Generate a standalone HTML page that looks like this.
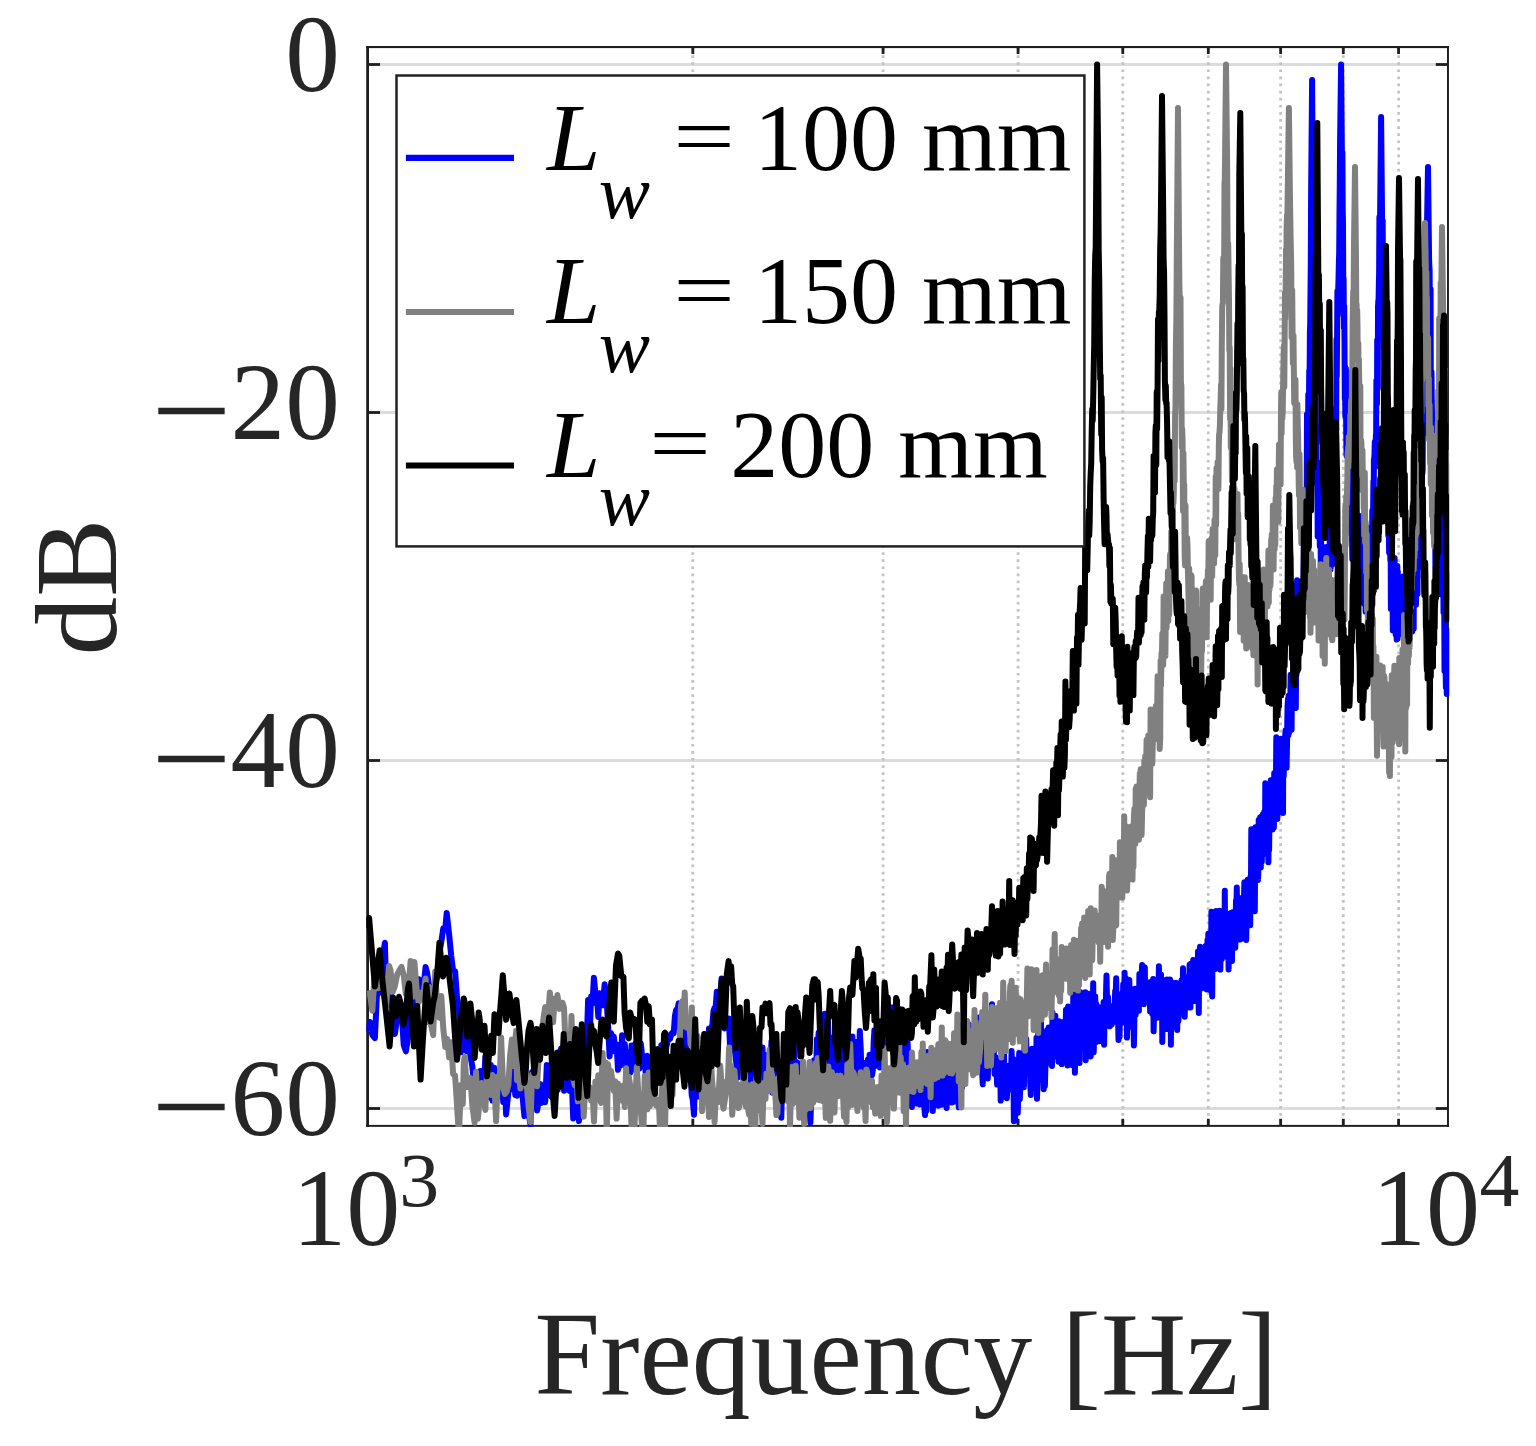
<!DOCTYPE html>
<html lang="en"><head><meta charset="utf-8"><title>Frequency response</title>
<style>
html,body{margin:0;padding:0;background:#fff;}
svg{display:block;}
text{font-family:"Liberation Serif","DejaVu Serif",serif;}
.tk{fill:#262626;}
.lg{fill:#000;}
</style></head>
<body>
<svg width="1536" height="1446" viewBox="0 0 1536 1446">
<rect x="0" y="0" width="1536" height="1446" fill="#ffffff"/>
<defs><clipPath id="ax"><rect x="366.3" y="45.9" width="1083.0" height="1081.1"/></clipPath></defs>
<g stroke="#dcdcdc" stroke-width="2.8" fill="none">
<line x1="367.6" y1="64.5" x2="1448.0" y2="64.5"/>
<line x1="367.6" y1="412.5" x2="1448.0" y2="412.5"/>
<line x1="367.6" y1="760.5" x2="1448.0" y2="760.5"/>
<line x1="367.6" y1="1108.5" x2="1448.0" y2="1108.5"/>
</g>
<g stroke="#c4c4c4" stroke-width="2.8" stroke-dasharray="2.7 4.4" fill="none">
<line x1="692.8" y1="48.1" x2="692.8" y2="1124.7"/>
<line x1="883.1" y1="48.1" x2="883.1" y2="1124.7"/>
<line x1="1018.1" y1="48.1" x2="1018.1" y2="1124.7"/>
<line x1="1122.8" y1="48.1" x2="1122.8" y2="1124.7"/>
<line x1="1208.3" y1="48.1" x2="1208.3" y2="1124.7"/>
<line x1="1280.6" y1="48.1" x2="1280.6" y2="1124.7"/>
<line x1="1343.3" y1="48.1" x2="1343.3" y2="1124.7"/>
<line x1="1398.6" y1="48.1" x2="1398.6" y2="1124.7"/>
</g>
<g fill="#1e1e1e" stroke="none">
<rect x="366.2" y="46.0" width="2.8" height="1080.8"/><rect x="1447.0" y="46.0" width="1.95" height="1080.8"/><rect x="366.2" y="46.0" width="1082.7" height="2.1"/><rect x="366.2" y="1124.9" width="1082.7" height="1.95"/>
<rect x="367.6" y="63.10" width="12.4" height="2.8"/><rect x="1435.8" y="63.10" width="12.2" height="2.8"/>
<rect x="367.6" y="411.10" width="12.4" height="2.8"/><rect x="1435.8" y="411.10" width="12.2" height="2.8"/>
<rect x="367.6" y="759.10" width="12.4" height="2.8"/><rect x="1435.8" y="759.10" width="12.2" height="2.8"/>
<rect x="367.6" y="1107.10" width="12.4" height="2.8"/><rect x="1435.8" y="1107.10" width="12.2" height="2.8"/>
<rect x="691.43" y="1118.8" width="2.8" height="6.9"/><rect x="691.43" y="47.2" width="2.8" height="6.8"/>
<rect x="881.68" y="1118.8" width="2.8" height="6.9"/><rect x="881.68" y="47.2" width="2.8" height="6.8"/>
<rect x="1016.67" y="1118.8" width="2.8" height="6.9"/><rect x="1016.67" y="47.2" width="2.8" height="6.8"/>
<rect x="1121.37" y="1118.8" width="2.8" height="6.9"/><rect x="1121.37" y="47.2" width="2.8" height="6.8"/>
<rect x="1206.91" y="1118.8" width="2.8" height="6.9"/><rect x="1206.91" y="47.2" width="2.8" height="6.8"/>
<rect x="1279.24" y="1118.8" width="2.8" height="6.9"/><rect x="1279.24" y="47.2" width="2.8" height="6.8"/>
<rect x="1341.90" y="1118.8" width="2.8" height="6.9"/><rect x="1341.90" y="47.2" width="2.8" height="6.8"/>
<rect x="1397.16" y="1118.8" width="2.8" height="6.9"/><rect x="1397.16" y="47.2" width="2.8" height="6.8"/>
</g>
<g clip-path="url(#ax)" fill="none" stroke-width="6" stroke-linejoin="round" stroke-linecap="butt">
<path stroke="#0000ff" d="M367.6 1031.3L369.9 1022.0L372.3 1034.8L374.9 1038.1L376.9 995.5L379.2 992.3L381.5 970.4L383.7 950.2L384.9 942.8L386.0 984.0L388.3 991.1L390.5 995.1L392.7 1011.4L394.9 1033.9L397.1 1018.4L399.3 999.5L401.5 1009.7L403.7 1044.9L405.9 1051.3L407.3 1043.1L410.2 1008.5L412.3 1014.8L414.4 989.4L416.6 992.1L418.9 979.3L420.8 993.7L422.9 993.0L425.6 966.9L427.0 972.3L429.1 985.9L431.1 986.8L433.2 1001.0L435.2 983.8L437.2 976.0L439.3 953.3L441.3 941.9L443.3 928.2L445.3 928.4L446.7 912.9L449.2 935.1L451.2 955.6L453.1 970.7L455.1 971.4L457.0 997.0L459.0 1009.5L460.9 1052.2L462.8 1028.6L464.7 1044.0L466.6 1051.2L468.5 1028.8L470.4 1055.7L472.3 1066.1L474.2 1086.1L476.0 1090.1L477.9 1082.4L479.7 1071.3L481.6 1070.9L483.4 1100.1L485.3 1057.0L487.1 1086.4L488.9 1097.5L490.7 1064.9L492.5 1100.6L494.3 1067.8L496.1 1090.6L497.9 1095.9L499.6 1094.3L501.4 1069.9L503.2 1101.9L504.9 1082.1L506.1 1114.4L508.4 1092.2L510.1 1088.4L512.7 1060.7L515.3 1095.1L517.0 1095.7L518.7 1093.2L520.4 1075.5L522.1 1091.4L524.4 1116.1L525.5 1100.4L527.1 1083.3L528.8 1114.2L530.5 1124.4L532.1 1072.1L533.8 1083.0L535.4 1089.4L537.1 1110.4L538.7 1100.9L540.3 1084.0L541.9 1102.8L543.6 1093.4L545.2 1102.2L546.8 1065.1L548.4 1070.1L550.0 1095.0L551.6 1097.0L553.1 1077.9L554.7 1087.8L556.3 1078.6L557.8 1089.9L559.4 1060.6L561.0 1048.5L562.5 1071.2L564.1 1090.8L565.6 1089.4L567.1 1073.8L568.7 1090.0L570.2 1091.4L571.7 1078.6L573.2 1118.5L574.7 1071.4L576.3 1086.1L577.8 1099.6L579.0 1121.1L580.7 1100.8L582.2 1069.5L583.7 1071.4L585.2 1058.3L586.7 1042.6L588.1 1000.1L589.6 1037.2L591.1 996.5L592.5 1003.5L593.9 977.7L595.4 993.1L596.8 993.0L598.3 1016.9L599.7 993.2L601.1 1004.3L602.6 1005.2L604.7 984.3L606.8 1003.9L608.2 1027.0L609.6 1056.4L611.0 1033.0L612.4 1039.0L613.8 1036.5L615.2 1051.7L616.6 1044.2L618.0 1069.8L619.3 1064.7L620.7 1065.3L622.1 1035.2L623.4 1063.7L624.8 1043.9L626.1 1067.3L627.5 1051.7L628.8 1059.0L630.2 1072.8L631.5 1045.6L632.9 1065.8L634.2 1069.5L635.5 1043.4L636.8 1057.3L638.2 1063.4L639.5 1068.6L640.8 1043.3L642.1 1055.3L643.4 1061.1L644.6 1060.7L646.0 1075.8L647.3 1055.7L648.6 1062.5L649.9 1082.9L651.2 1101.5L652.4 1069.8L653.7 1054.9L655.0 1070.4L656.3 1052.8L657.5 1081.9L658.8 1069.7L660.0 1077.2L661.3 1045.3L662.6 1080.8L663.8 1064.1L665.0 1064.6L666.3 1047.2L667.5 1041.8L668.8 1035.5L670.0 1039.0L671.2 1034.0L672.5 1032.6L673.7 1033.4L674.9 1016.2L676.1 1010.0L677.3 1011.0L678.6 1003.4L679.7 1025.3L681.0 1031.4L682.2 1036.8L683.4 1018.6L684.5 1027.1L685.7 1035.7L686.9 1065.8L688.1 1050.6L689.3 1079.8L690.5 1070.2L691.7 1095.1L692.7 1099.5L694.0 1114.7L695.2 1069.6L696.3 1083.4L697.5 1096.6L698.7 1051.4L699.8 1063.7L701.0 1065.4L702.1 1066.1L703.3 1047.7L704.4 1071.2L705.6 1059.1L706.7 1065.4L707.8 1054.7L709.0 1028.4L710.1 1034.8L711.2 1028.0L712.4 1024.4L713.5 1010.8L714.6 1007.9L715.7 1006.8L716.8 991.7L718.0 1011.2L719.1 1019.6L720.2 1000.8L721.6 978.5L723.5 1018.7L724.6 1028.5L725.7 1017.8L726.8 1022.3L727.9 1028.2L728.9 1018.5L730.0 1046.4L731.1 1020.4L732.2 1041.2L733.3 1048.7L734.3 1048.3L735.4 1054.6L736.5 1065.2L737.6 1072.0L738.6 1077.4L739.7 1052.1L740.7 1041.3L741.8 1050.4L742.9 1038.8L743.9 1055.4L745.0 1070.7L746.0 1043.3L747.1 1053.4L748.1 1051.8L749.1 1041.7L750.2 1053.6L751.2 1090.1L752.3 1094.7L753.3 1062.4L754.3 1055.0L755.3 1069.2L756.4 1052.8L757.4 1083.1L758.4 1071.8L759.4 1059.2L760.4 1088.8L761.5 1070.1L762.5 1047.6L763.5 1077.2L764.5 1065.9L765.5 1057.4L766.5 1055.0L767.5 1065.1L768.5 1063.5L769.5 1079.2L770.5 1065.4L771.5 1041.5L772.5 1092.8L773.5 1073.6L774.5 1063.9L775.4 1086.5L776.4 1088.7L777.4 1063.9L778.4 1084.9L779.4 1090.4L780.3 1071.2L781.3 1117.8L782.3 1073.7L783.2 1082.5L784.2 1088.4L785.2 1090.4L786.1 1077.9L787.1 1089.7L788.1 1057.5L789.0 1069.8L790.0 1051.2L790.9 1092.4L791.9 1089.4L792.8 1065.8L793.8 1041.6L794.7 1100.5L795.7 1064.2L796.6 1062.1L797.5 1063.3L798.5 1070.0L799.4 1063.4L800.3 1080.4L801.3 1070.2L802.2 1075.0L803.1 1065.6L804.1 1090.6L805.0 1085.2L805.9 1098.9L806.8 1078.2L807.7 1094.7L808.7 1095.9L810.4 1122.7L811.4 1091.0L812.3 1076.8L813.2 1082.4L814.1 1060.2L815.0 1075.5L815.9 1098.6L816.8 1039.2L817.7 1055.4L818.6 1032.7L819.5 1044.1L820.4 1041.8L821.3 1058.1L822.2 1056.1L823.1 1052.5L824.0 1030.0L824.9 1013.8L825.8 1029.3L826.6 1028.5L827.8 1015.0L829.3 1063.3L830.2 1056.5L831.0 1067.3L831.9 1055.4L832.8 1084.9L833.6 1037.2L834.5 1070.2L835.4 1027.2L836.2 1072.4L837.1 1059.1L838.0 1051.0L838.8 1037.5L839.7 1052.0L840.5 1049.4L841.4 1050.9L842.3 1083.8L843.1 1062.0L844.0 1070.1L844.8 1060.9L845.7 1038.2L846.5 1065.0L847.3 1085.3L848.2 1035.9L849.0 1073.2L849.9 1080.9L850.7 1058.0L851.5 1077.2L852.4 1036.5L853.2 1068.6L854.0 1052.1L854.9 1045.0L855.7 1073.6L856.5 1042.2L857.4 1041.7L858.2 1056.3L859.0 1073.8L859.8 1030.9L860.7 1047.6L861.5 1078.3L862.3 1065.2L863.1 1078.3L863.9 1062.7L864.7 1066.6L865.6 1067.6L866.4 1080.8L867.2 1079.5L868.0 1059.5L868.8 1067.1L869.6 1054.7L870.4 1074.0L871.2 1059.4L872.0 1075.4L872.8 1070.3L873.6 1043.0L874.4 1030.3L875.2 1065.8L876.0 1042.3L876.8 1063.2L877.6 1044.2L878.4 1063.6L879.2 1061.5L879.9 1067.6L880.7 1057.2L881.5 1059.6L882.3 1053.1L883.1 1039.1L883.9 1054.2L884.6 1041.2L885.4 1021.4L886.2 1033.2L887.0 1040.1L887.8 1038.8L888.5 1043.6L889.3 1038.0L890.1 1010.0L891.6 1007.6L893.1 1022.2L893.9 1016.1L894.7 1006.7L895.4 1029.8L896.2 999.5L897.0 1075.6L897.7 1030.6L898.5 1053.2L899.2 1031.6L900.0 1037.4L900.7 1071.6L901.5 1040.3L902.2 1061.2L903.0 1074.7L903.7 1063.3L904.5 1030.2L905.2 1057.5L906.0 1046.3L906.7 1081.3L907.5 1039.9L908.2 1059.1L908.9 1071.0L909.7 1079.6L910.4 1081.3L911.2 1092.4L911.9 1106.9L912.6 1069.1L913.4 1072.8L914.1 1072.1L914.8 1088.1L915.6 1088.3L916.3 1103.4L917.0 1080.2L917.7 1093.6L918.5 1069.3L919.2 1095.2L919.9 1104.5L920.6 1095.2L921.4 1083.8L922.1 1082.5L922.8 1086.5L923.5 1072.2L924.2 1105.3L925.0 1115.1L925.7 1072.3L926.4 1110.7L927.1 1051.9L927.8 1075.3L928.5 1087.8L929.2 1084.0L929.9 1089.9L930.6 1085.8L931.3 1061.9L932.0 1072.3L932.8 1111.0L933.5 1090.3L934.2 1086.8L934.9 1089.5L935.6 1085.0L936.3 1103.7L937.0 1090.2L937.7 1076.2L938.3 1105.7L939.0 1085.3L939.7 1086.2L940.4 1070.6L941.1 1092.7L941.8 1104.8L942.5 1096.3L943.2 1093.7L943.9 1069.3L944.6 1076.4L945.2 1082.7L945.9 1100.3L946.6 1108.0L947.3 1083.3L948.0 1086.2L948.7 1075.8L949.3 1071.9L950.0 1089.5L950.7 1074.9L951.4 1093.6L952.0 1102.5L952.7 1081.0L953.4 1070.6L954.1 1097.7L954.7 1101.6L955.4 1100.5L956.1 1082.2L956.7 1100.7L957.4 1065.5L958.1 1090.0L958.8 1107.3L959.4 1066.4L960.1 1101.6L960.7 1064.9L961.4 1070.4L962.1 1087.3L962.7 1078.5L963.4 1039.8L964.0 1064.1L964.7 1037.3L965.4 1061.7L966.0 1055.3L966.7 1051.1L967.3 1063.2L968.0 1027.0L968.6 1024.1L969.3 1050.9L969.9 1044.6L970.6 1065.3L971.2 1035.7L971.9 1069.1L972.5 1049.7L973.2 1032.0L973.8 1058.0L974.5 1069.3L975.1 1058.4L975.7 1050.8L976.4 1029.5L977.0 1057.9L977.7 1035.7L978.3 1022.9L978.9 1017.5L979.6 1041.6L980.2 1059.4L980.9 1062.8L981.5 1024.2L982.1 1072.4L982.8 1084.3L983.4 1043.2L984.0 1054.8L984.6 1025.2L985.3 1069.0L985.9 1048.1L986.5 1013.5L987.2 1045.8L987.8 1078.5L988.4 1048.3L989.0 1065.4L989.7 1032.4L990.3 1036.1L990.9 1029.8L992.0 1004.2L993.4 1034.3L994.0 1059.9L994.6 1073.8L995.2 1063.6L995.8 1057.2L996.5 1068.4L997.1 1084.6L997.7 1080.9L998.3 1075.4L998.9 1074.7L999.5 1059.1L1000.1 1060.8L1000.7 1100.6L1001.3 1067.5L1002.0 1068.0L1002.6 1063.9L1003.2 1096.6L1003.8 1039.3L1004.4 1077.4L1005.0 1095.5L1005.6 1074.0L1006.2 1072.3L1006.8 1098.2L1007.4 1089.1L1008.0 1066.1L1008.6 1081.0L1009.2 1083.9L1009.8 1067.5L1010.4 1075.2L1011.0 1075.7L1011.6 1051.1L1012.2 1089.7L1012.8 1072.2L1013.3 1058.9L1013.9 1121.3L1014.5 1094.7L1015.1 1120.8L1015.7 1087.1L1016.3 1060.2L1016.9 1075.4L1017.8 1112.8L1019.2 1052.9L1019.8 1099.1L1020.4 1085.8L1021.0 1061.4L1021.6 1060.4L1022.2 1078.5L1022.7 1061.4L1023.3 1064.3L1023.9 1087.2L1024.5 1043.0L1025.1 1072.5L1025.6 1053.6L1026.2 1039.1L1026.8 1074.3L1027.4 1063.6L1027.9 1067.6L1028.5 1067.8L1029.1 1071.2L1029.7 1058.6L1030.2 1082.7L1030.8 1094.9L1031.4 1053.2L1031.9 1048.8L1032.5 1050.6L1033.1 1053.9L1033.6 1070.0L1034.2 1050.8L1034.8 1087.4L1035.3 1063.9L1035.9 1083.0L1036.5 1037.8L1037.0 1098.7L1037.6 1080.9L1038.2 1021.1L1038.7 1017.8L1039.3 1058.2L1039.8 1048.5L1040.4 1042.7L1041.0 1021.1L1041.5 1072.1L1042.1 1053.4L1042.6 1059.6L1043.2 1049.8L1043.7 1089.2L1044.3 1036.8L1044.9 1086.0L1045.4 1066.8L1046.0 1064.8L1046.5 1039.6L1047.1 1030.2L1047.6 1049.0L1048.2 1045.0L1048.7 1027.4L1049.3 1047.9L1049.8 1032.7L1050.4 1050.9L1050.9 1047.6L1051.5 1028.2L1052.0 1066.0L1052.5 1012.4L1053.1 1046.3L1053.6 1035.2L1054.2 1053.7L1054.7 1056.2L1055.3 1015.7L1055.8 1050.0L1056.3 1043.2L1056.9 1055.1L1057.4 1052.8L1058.0 1048.8L1058.5 1061.7L1059.0 1021.2L1059.6 1054.1L1060.1 1039.4L1060.6 1033.8L1061.2 1048.7L1061.7 1064.1L1062.3 1023.3L1062.8 1037.2L1063.3 1021.9L1063.9 1041.2L1064.4 1036.5L1064.9 1033.4L1065.4 1035.1L1066.0 1009.7L1066.5 1030.0L1067.0 1026.0L1067.6 1065.4L1068.1 1006.6L1068.6 1038.5L1069.1 1013.7L1069.7 1047.3L1070.2 1056.1L1070.7 1035.1L1071.2 1043.6L1071.8 1032.1L1072.3 1065.2L1072.8 1047.2L1073.3 994.3L1073.9 1027.0L1074.4 1035.8L1074.9 1072.8L1075.4 1011.5L1075.9 1015.9L1076.4 1022.2L1077.0 1023.8L1077.5 993.8L1078.0 1042.7L1078.5 993.9L1079.0 1034.6L1079.5 1063.0L1080.1 991.9L1080.6 1006.9L1081.1 1044.2L1081.6 1038.8L1082.1 1024.9L1082.6 1009.2L1083.1 1031.1L1083.6 1026.7L1084.2 1002.3L1084.7 1019.8L1085.2 992.2L1085.7 1060.3L1086.2 1025.1L1086.7 1007.8L1087.2 1028.7L1087.7 1024.0L1088.2 993.8L1088.7 1033.7L1089.2 1045.5L1089.7 997.7L1090.2 1012.5L1090.7 1056.4L1091.2 1047.5L1091.7 1039.1L1092.2 1009.4L1092.7 1013.5L1093.2 983.2L1093.7 1052.2L1094.2 1031.7L1094.7 1019.0L1095.2 996.6L1095.7 1042.3L1096.2 1003.4L1096.7 1006.9L1097.2 1018.3L1097.7 1038.6L1098.2 1032.9L1098.7 1007.2L1099.2 1041.2L1099.7 1029.8L1100.2 1013.4L1100.7 1028.9L1101.2 1029.0L1101.7 1023.6L1102.1 1041.1L1102.6 1020.5L1103.1 1039.6L1103.6 1001.9L1104.1 1044.7L1104.6 1016.2L1105.1 1016.8L1105.6 1010.5L1106.1 990.6L1106.5 975.4L1107.0 1000.3L1107.5 1012.0L1108.0 997.1L1108.5 1025.5L1109.0 1007.9L1109.4 1018.9L1109.9 1026.3L1110.4 1006.2L1110.9 1006.6L1111.4 1008.9L1111.8 1024.3L1112.3 1013.0L1112.8 1009.2L1113.3 1022.2L1113.8 1016.6L1114.2 1019.4L1114.7 1003.9L1115.2 991.0L1115.7 995.3L1116.2 978.2L1116.6 1008.6L1117.1 1011.1L1117.6 1006.7L1118.1 1020.0L1118.5 1039.9L1119.0 1015.0L1119.5 1036.9L1119.9 1015.7L1120.4 996.7L1120.9 999.9L1121.4 1023.3L1121.8 1021.5L1122.3 992.9L1122.8 1003.2L1123.2 984.3L1123.7 999.8L1124.2 1016.5L1124.6 972.7L1125.1 1004.8L1125.6 1008.7L1126.0 978.3L1126.5 979.0L1127.0 1037.6L1127.4 1023.3L1127.9 1019.6L1128.4 1021.9L1128.8 1008.9L1129.3 980.1L1129.8 1009.5L1130.2 1026.8L1130.7 1003.2L1131.1 1013.1L1131.6 1015.8L1132.1 994.8L1132.5 1010.3L1133.0 1026.6L1133.4 1005.9L1133.9 1045.4L1134.4 1018.7L1134.8 988.8L1135.3 999.1L1135.7 1014.8L1136.2 992.1L1136.6 999.9L1137.1 994.6L1137.5 989.4L1138.0 989.2L1138.5 995.8L1138.9 1010.8L1139.4 973.9L1139.8 991.5L1140.3 988.0L1140.7 1004.3L1141.2 996.9L1141.6 978.9L1142.1 965.0L1142.5 991.5L1143.0 992.1L1143.4 973.1L1143.9 1004.1L1144.3 971.1L1144.8 967.2L1145.2 998.5L1145.7 997.3L1146.1 989.8L1146.6 987.2L1147.0 993.5L1147.4 994.1L1147.9 986.0L1148.3 993.5L1148.8 993.8L1149.2 998.3L1149.7 982.2L1150.1 1011.4L1150.6 985.6L1151.0 984.3L1151.4 982.4L1151.9 987.7L1152.3 1013.9L1152.8 1009.8L1153.2 979.0L1153.6 1031.3L1154.1 1012.9L1154.5 993.4L1155.0 1000.2L1155.4 986.8L1155.8 989.3L1156.3 987.9L1156.7 998.2L1157.1 1017.8L1157.6 984.1L1158.0 1012.0L1158.4 1008.4L1158.9 966.3L1159.3 991.7L1159.7 975.4L1160.2 980.0L1160.6 1002.9L1161.0 974.4L1161.5 1002.6L1161.9 979.2L1162.3 1042.0L1162.8 1005.6L1163.2 990.6L1163.6 989.0L1164.1 982.7L1164.5 982.3L1164.9 986.8L1165.4 990.2L1165.8 989.3L1166.2 1010.3L1166.6 1028.9L1167.1 979.6L1167.5 1000.5L1167.9 1014.9L1168.3 985.8L1168.8 999.0L1169.2 1024.7L1169.6 1012.0L1170.0 979.4L1170.5 993.0L1170.9 1044.8L1171.3 986.1L1171.7 986.8L1172.2 1006.3L1172.6 1023.3L1173.0 982.8L1173.4 990.2L1173.8 1003.1L1174.3 1026.5L1174.7 995.0L1175.1 995.3L1175.5 983.1L1175.9 982.8L1176.4 1009.7L1176.8 988.1L1177.2 1030.0L1177.6 1000.8L1178.0 995.4L1178.4 1021.0L1178.9 1007.9L1179.3 998.8L1179.7 1003.0L1180.1 989.8L1180.5 995.4L1180.9 984.2L1181.4 980.3L1181.8 997.2L1182.2 999.9L1182.6 1007.8L1183.0 968.3L1183.4 981.0L1183.8 1003.9L1184.2 981.3L1184.7 1016.7L1185.1 996.6L1185.5 998.1L1185.9 990.8L1186.3 984.5L1186.7 995.9L1187.1 991.9L1187.5 977.1L1187.9 980.7L1188.3 985.3L1188.8 982.7L1189.2 1007.4L1189.6 964.7L1190.0 975.9L1190.4 1007.5L1190.8 963.8L1191.2 985.0L1191.6 977.1L1192.0 996.3L1192.4 991.5L1192.8 969.4L1193.2 960.0L1193.6 990.2L1194.0 980.3L1194.4 1001.1L1194.8 970.3L1195.2 973.8L1195.6 993.4L1196.0 994.9L1196.4 979.4L1196.8 989.0L1197.2 959.2L1197.6 981.4L1198.0 951.6L1198.4 989.8L1198.8 1013.0L1199.2 959.3L1199.6 982.0L1200.0 946.7L1200.4 973.7L1200.8 988.7L1201.2 978.4L1201.6 960.3L1202.0 953.6L1202.4 965.8L1202.8 954.5L1203.2 977.6L1203.6 976.2L1204.0 987.8L1204.4 967.4L1204.8 948.2L1205.2 956.3L1205.6 945.9L1206.0 964.3L1206.4 950.9L1206.7 989.4L1207.1 961.4L1207.5 940.0L1207.9 952.2L1208.3 933.7L1208.7 985.6L1209.1 938.1L1209.5 966.7L1209.9 973.7L1210.3 958.7L1210.7 990.6L1211.0 965.8L1211.4 911.8L1211.8 977.5L1212.2 996.5L1212.6 929.9L1213.0 960.6L1213.4 945.8L1213.8 946.8L1214.1 962.3L1214.5 963.8L1214.9 929.1L1215.3 969.0L1215.7 955.2L1216.1 911.0L1216.5 914.4L1216.8 941.0L1217.2 967.2L1217.6 966.0L1218.0 929.3L1218.4 927.1L1218.8 938.3L1219.1 944.8L1219.5 910.7L1219.9 939.2L1220.3 969.6L1220.7 950.3L1221.0 927.1L1221.4 950.3L1221.8 959.0L1222.2 928.3L1222.6 947.8L1222.9 928.5L1223.3 938.6L1223.7 926.3L1224.1 948.5L1224.5 938.6L1224.8 890.8L1225.2 950.7L1225.6 950.4L1226.0 956.4L1226.3 946.5L1226.7 927.2L1227.1 924.2L1227.5 922.4L1227.8 913.8L1228.2 923.3L1228.6 969.4L1229.0 945.6L1229.3 928.9L1229.7 939.6L1230.1 920.6L1230.5 922.9L1230.8 912.9L1231.2 930.3L1231.6 938.0L1232.0 961.0L1232.3 917.8L1232.7 917.5L1233.1 912.1L1233.4 923.6L1233.8 919.3L1234.2 918.7L1234.5 925.1L1234.9 935.6L1235.3 947.8L1235.7 918.1L1236.0 900.5L1236.4 912.5L1236.8 887.4L1237.1 925.0L1237.5 906.4L1237.9 910.7L1238.2 899.3L1238.6 931.2L1239.0 917.7L1239.3 904.9L1239.7 939.6L1240.1 903.4L1240.4 936.3L1240.8 924.5L1241.2 927.6L1241.5 898.0L1241.9 905.1L1242.2 938.5L1242.6 927.8L1243.0 913.7L1243.3 923.8L1243.7 925.2L1244.1 892.9L1244.4 882.2L1244.8 893.6L1245.1 906.2L1245.5 899.7L1245.9 890.7L1246.2 940.0L1246.6 916.3L1247.0 897.4L1247.3 898.5L1247.7 879.7L1248.0 909.7L1248.4 904.9L1248.8 912.3L1249.1 901.5L1249.5 893.3L1249.8 887.7L1250.2 925.3L1250.5 876.4L1250.9 892.2L1251.3 829.2L1251.6 857.7L1252.0 882.7L1252.3 886.3L1252.7 887.4L1253.0 900.7L1253.4 888.8L1253.7 878.0L1254.1 887.3L1254.5 873.1L1254.8 911.2L1255.2 851.2L1255.5 827.3L1255.9 859.0L1256.2 857.7L1256.6 865.6L1256.9 869.0L1257.3 872.7L1257.6 836.8L1258.0 879.9L1258.3 872.3L1258.7 820.0L1259.0 837.4L1259.4 844.8L1259.7 836.9L1260.1 817.5L1260.4 848.0L1260.8 867.5L1261.1 849.7L1261.5 816.4L1261.8 861.8L1262.2 840.9L1262.5 837.2L1262.9 814.2L1263.2 827.2L1263.6 824.9L1263.9 828.5L1264.3 811.7L1264.6 828.5L1265.0 830.4L1265.3 783.2L1265.7 843.5L1266.0 843.7L1266.4 798.6L1266.7 852.4L1267.0 828.2L1267.4 854.5L1267.7 791.5L1268.1 844.8L1268.4 862.2L1268.8 821.7L1269.1 850.2L1269.5 818.8L1269.8 825.7L1270.1 811.7L1270.5 812.4L1270.8 780.3L1271.2 799.7L1271.5 804.5L1271.8 796.4L1272.2 811.1L1272.5 829.4L1272.9 809.3L1273.2 808.2L1273.6 801.2L1273.9 827.5L1274.2 773.3L1274.6 803.8L1274.9 797.9L1275.3 802.6L1275.6 809.5L1275.9 787.8L1276.3 737.2L1276.6 798.3L1276.9 783.9L1277.3 819.0L1277.6 784.1L1278.0 760.7L1278.3 760.3L1278.6 791.3L1279.0 781.6L1279.3 772.9L1279.6 760.6L1280.0 788.5L1280.3 767.5L1280.6 758.2L1281.0 738.8L1281.3 771.9L1281.6 784.7L1282.0 761.3L1282.3 740.5L1282.7 741.0L1283.0 812.9L1283.3 756.8L1283.7 776.1L1284.0 764.9L1284.3 757.9L1284.6 744.6L1285.0 744.5L1285.3 733.4L1285.6 730.2L1286.0 739.6L1286.3 730.0L1286.6 767.8L1287.0 744.5L1287.3 720.7L1287.6 705.9L1288.0 699.1L1288.3 735.2L1288.6 695.8L1288.9 733.3L1289.3 731.5L1289.6 699.9L1289.9 711.7L1290.3 707.1L1290.6 674.8L1290.9 710.7L1291.2 677.9L1291.6 729.8L1291.9 682.6L1292.2 680.3L1292.6 689.4L1292.9 706.3L1293.2 683.3L1293.5 663.0L1293.9 640.1L1294.2 643.0L1294.5 672.1L1294.8 706.0L1295.2 652.2L1295.5 633.6L1295.8 707.9L1296.1 673.8L1296.5 648.0L1296.8 647.4L1297.1 580.3L1297.4 635.8L1297.8 648.3L1298.1 658.6L1298.4 600.0L1298.7 604.8L1299.0 636.6L1299.4 609.0L1299.7 622.2L1300.0 627.5L1300.3 619.9L1300.7 600.0L1301.0 625.3L1301.3 624.5L1301.6 584.4L1301.9 598.6L1302.3 590.9L1302.6 585.3L1302.9 602.2L1303.2 598.4L1303.5 577.0L1303.9 546.4L1304.2 551.5L1304.5 554.8L1304.8 544.7L1305.1 541.0L1305.4 505.2L1305.8 501.6L1306.1 504.5L1306.4 520.7L1306.7 484.7L1307.0 414.2L1307.4 442.0L1307.7 418.4L1308.0 436.3L1308.3 394.2L1308.6 426.3L1308.9 412.8L1309.2 370.7L1309.6 377.6L1309.9 331.9L1310.2 323.5L1310.5 291.8L1310.8 261.4L1311.1 193.1L1312.1 80.0L1313.0 210.7L1313.3 241.7L1313.6 278.9L1314.0 281.6L1314.3 326.5L1314.6 383.1L1314.9 392.1L1315.2 416.5L1315.5 385.8L1315.8 421.4L1316.1 429.3L1316.4 439.5L1316.8 483.5L1317.1 463.7L1317.4 461.6L1317.7 536.5L1318.0 479.1L1318.3 491.0L1318.6 473.4L1318.9 492.5L1319.2 517.9L1319.5 513.2L1319.8 546.2L1320.2 503.8L1320.5 498.1L1320.8 572.9L1321.1 538.4L1321.4 579.2L1321.7 583.1L1322.0 571.2L1322.3 586.1L1322.6 580.8L1322.9 609.8L1323.2 579.6L1323.5 588.4L1323.8 547.0L1324.1 598.4L1324.4 592.8L1324.8 587.7L1325.1 616.2L1325.4 608.6L1325.7 607.7L1326.0 575.7L1326.3 591.6L1326.6 562.8L1326.9 570.3L1327.2 586.6L1327.5 546.7L1327.8 590.4L1328.1 613.0L1328.4 579.5L1328.7 568.6L1329.0 567.5L1329.3 548.1L1329.6 552.8L1329.9 529.4L1330.2 551.4L1330.5 569.4L1330.8 528.0L1331.1 541.6L1331.4 558.0L1331.7 549.0L1332.0 564.8L1332.3 535.8L1332.6 504.5L1332.9 501.0L1333.2 458.7L1333.5 485.1L1333.8 447.3L1334.1 474.6L1334.4 413.9L1334.7 435.5L1335.0 461.7L1335.3 417.7L1335.6 408.5L1335.9 431.9L1336.2 429.5L1336.5 339.3L1336.8 376.1L1337.1 334.7L1337.4 291.0L1337.7 315.3L1338.0 307.6L1338.3 286.4L1338.6 275.8L1338.9 261.4L1339.2 252.9L1339.5 210.8L1339.8 182.0L1340.1 138.8L1341.1 64.5L1342.1 178.6L1342.4 152.2L1342.7 207.8L1343.0 225.5L1343.3 291.3L1343.6 278.5L1343.9 327.8L1344.2 306.0L1344.5 342.0L1344.8 399.0L1345.1 367.1L1345.3 416.1L1345.6 409.0L1345.9 368.8L1346.2 430.0L1346.5 455.5L1346.8 456.2L1347.1 451.3L1347.4 433.9L1347.7 414.5L1348.0 403.4L1348.3 469.5L1348.5 472.5L1348.8 460.0L1349.1 446.5L1349.4 462.8L1349.7 528.6L1350.0 492.2L1350.3 482.5L1350.6 512.0L1350.9 526.3L1351.2 534.0L1351.4 531.4L1351.7 518.0L1352.0 537.6L1352.3 559.1L1352.6 537.9L1352.9 545.9L1353.2 535.7L1353.5 521.0L1353.7 539.8L1354.0 526.3L1354.3 542.2L1354.6 525.9L1354.9 552.1L1355.2 563.6L1355.5 546.9L1355.7 540.6L1356.0 544.9L1356.3 584.9L1356.6 526.7L1356.9 585.7L1357.2 593.9L1357.5 579.4L1357.7 565.2L1358.0 547.7L1358.3 545.3L1358.6 541.6L1358.9 551.7L1359.2 558.3L1359.4 601.0L1359.7 516.1L1360.0 569.6L1360.3 594.9L1360.6 578.2L1360.9 592.6L1361.1 602.5L1361.4 572.0L1361.7 588.7L1362.0 580.0L1362.3 565.0L1362.5 584.9L1362.8 569.7L1363.1 543.0L1363.4 580.1L1363.7 556.0L1364.0 527.5L1364.2 538.6L1364.5 540.6L1364.8 604.6L1365.1 556.2L1365.4 591.1L1365.6 611.6L1365.9 551.6L1366.2 574.4L1366.5 569.3L1366.7 566.9L1367.0 585.7L1367.3 610.3L1367.6 556.2L1367.9 565.3L1368.1 527.7L1368.4 590.3L1368.7 618.2L1369.0 571.2L1369.3 573.7L1369.5 577.4L1369.8 564.6L1370.1 579.8L1370.4 612.2L1370.6 587.3L1370.9 575.8L1371.2 574.7L1371.5 537.7L1371.7 549.2L1372.0 553.2L1372.3 511.4L1372.6 509.6L1372.8 561.5L1373.1 512.2L1373.4 481.2L1373.7 513.5L1373.9 459.5L1374.2 458.7L1374.5 453.6L1374.8 441.8L1375.0 454.2L1375.3 467.1L1375.6 465.7L1375.9 435.0L1376.1 441.9L1376.4 380.4L1376.7 389.9L1377.0 403.7L1377.2 340.0L1377.5 355.6L1377.8 388.5L1378.0 306.8L1378.3 300.9L1378.6 299.1L1378.9 280.6L1379.1 274.7L1379.4 216.9L1379.7 240.5L1380.0 225.2L1381.1 117.0L1382.1 221.3L1382.4 248.8L1382.7 220.7L1382.9 264.2L1383.2 307.5L1383.5 303.8L1383.7 305.7L1384.0 348.1L1384.3 334.6L1384.5 358.1L1384.8 352.9L1385.1 400.4L1385.3 393.9L1385.6 405.3L1385.9 423.2L1386.1 462.7L1386.4 393.9L1386.7 454.9L1387.0 446.9L1387.2 505.3L1387.5 470.8L1387.8 523.9L1388.0 491.1L1388.3 535.6L1388.6 472.0L1388.8 527.4L1389.1 552.4L1389.4 504.9L1389.6 530.3L1389.9 545.4L1390.1 553.5L1390.4 560.9L1390.7 555.4L1390.9 609.0L1391.2 589.6L1391.5 588.1L1391.7 585.8L1392.0 597.5L1392.3 590.3L1392.5 585.5L1392.8 630.4L1393.1 601.9L1393.3 574.1L1393.6 619.9L1393.8 617.0L1394.1 575.7L1394.4 571.9L1394.6 558.1L1394.9 620.7L1395.2 579.0L1395.4 587.3L1395.7 634.8L1395.9 606.0L1396.2 626.3L1396.5 628.1L1396.7 639.6L1397.0 570.1L1397.3 566.1L1397.5 638.7L1397.8 571.5L1398.0 588.7L1398.3 602.9L1398.6 578.9L1398.8 605.4L1399.1 600.8L1399.3 623.3L1399.6 626.1L1399.9 594.8L1400.1 623.7L1400.4 620.2L1400.6 615.7L1400.9 583.9L1401.2 577.6L1401.4 592.1L1401.7 634.1L1401.9 590.1L1402.2 613.1L1402.5 602.6L1402.7 600.4L1403.0 620.1L1403.2 587.4L1403.5 576.2L1403.7 603.5L1404.0 601.7L1404.3 583.4L1404.5 616.3L1404.8 613.6L1405.0 608.8L1405.3 614.6L1405.5 582.7L1405.8 609.6L1406.1 586.1L1406.3 595.9L1406.6 606.2L1406.8 539.5L1407.1 616.7L1407.3 643.6L1407.6 572.7L1407.9 560.9L1408.1 590.3L1408.4 595.3L1408.6 627.6L1408.9 564.7L1409.1 622.3L1409.4 602.2L1409.6 586.3L1409.9 614.1L1410.1 600.0L1410.4 598.4L1410.7 624.4L1410.9 625.4L1411.2 621.0L1411.4 627.3L1411.7 622.8L1411.9 567.2L1412.2 631.4L1412.4 628.8L1412.7 623.7L1412.9 559.2L1413.2 626.3L1413.4 610.6L1413.7 628.7L1413.9 571.6L1414.2 584.8L1414.5 581.9L1414.7 585.3L1415.0 595.3L1415.2 586.1L1415.5 603.9L1415.7 574.4L1416.0 604.6L1416.2 593.5L1416.5 566.1L1416.7 558.4L1417.0 558.5L1417.2 553.6L1417.5 593.9L1417.7 513.0L1418.0 568.9L1418.2 554.5L1418.5 538.4L1418.7 565.2L1419.0 546.8L1419.2 522.7L1419.5 521.0L1419.7 555.6L1420.0 505.4L1420.2 521.0L1420.5 518.6L1420.7 515.1L1421.0 496.5L1421.2 466.0L1421.5 496.4L1421.7 427.4L1422.0 479.5L1422.2 453.2L1422.4 473.6L1422.7 469.5L1422.9 410.7L1423.2 423.2L1423.4 428.4L1423.7 388.3L1423.9 433.5L1424.2 391.6L1424.4 396.7L1424.7 371.0L1424.9 340.4L1425.2 351.7L1425.4 351.9L1425.7 279.3L1425.9 329.0L1426.1 330.5L1426.4 302.7L1426.6 267.5L1426.9 231.5L1428.0 167.0L1429.1 259.7L1429.3 265.6L1429.6 269.8L1429.8 298.7L1430.1 327.4L1430.3 344.8L1430.6 289.2L1430.8 379.1L1431.0 372.2L1431.3 408.4L1431.5 371.9L1431.8 400.9L1432.0 413.4L1432.3 424.8L1432.5 468.6L1432.7 429.0L1433.0 456.5L1433.2 459.4L1433.5 483.3L1433.7 484.6L1433.9 462.4L1434.2 527.0L1434.4 529.2L1434.7 512.4L1434.9 506.9L1435.2 523.1L1435.4 566.7L1435.6 500.8L1435.9 531.7L1436.1 499.7L1436.4 524.1L1436.6 525.2L1436.8 537.9L1437.1 548.4L1437.3 552.4L1437.6 552.5L1437.8 575.5L1438.0 570.7L1438.3 553.8L1438.5 594.3L1438.8 497.2L1439.0 574.6L1439.2 514.6L1439.5 569.6L1439.7 558.9L1440.0 532.6L1440.2 535.0L1440.4 549.6L1440.7 515.2L1440.9 576.1L1441.1 556.2L1441.4 548.1L1441.6 569.0L1441.9 533.5L1442.1 544.7L1442.3 541.6L1442.6 578.5L1442.8 590.1L1443.0 596.0L1443.3 574.5L1443.5 612.5L1443.8 587.4L1444.0 592.8L1444.2 596.1L1444.5 671.1L1444.7 625.5L1444.9 650.3L1445.2 629.2L1445.4 651.0L1445.6 666.5L1445.9 687.5L1446.1 637.2L1446.4 645.0L1446.6 682.2L1446.8 693.9L1447.1 637.5L1447.3 630.1L1447.5 631.2L1447.8 631.3L1448.0 693.6"/>
<path stroke="#808080" d="M367.6 993.8L369.9 993.0L372.3 1010.7L374.6 975.3L376.9 988.4L379.2 974.7L381.5 988.2L383.7 978.8L386.0 1006.4L389.1 966.0L390.5 970.1L392.7 992.1L394.9 986.0L397.1 974.9L399.3 970.5L401.5 966.9L403.7 975.2L405.9 994.1L408.0 995.7L410.6 961.1L412.3 997.0L414.4 962.0L416.6 989.0L418.7 1002.3L420.8 992.9L422.9 999.3L425.6 978.5L427.0 1022.1L429.1 987.1L431.1 1025.0L433.2 1035.1L435.2 971.4L437.2 1006.8L439.3 1017.8L441.3 995.9L443.3 1028.9L445.3 1046.9L447.2 1039.0L449.2 1057.3L451.2 1042.3L453.1 1073.9L455.1 1075.6L457.9 1119.4L459.0 1134.8L460.9 1085.1L462.8 1104.0L463.8 1062.3L464.7 1056.7L466.6 1087.0L468.5 1086.9L470.4 1077.9L472.3 1105.3L474.6 1122.7L476.0 1071.8L477.9 1118.7L479.7 1097.5L481.6 1083.0L483.4 1094.1L485.3 1110.0L487.1 1070.0L488.9 1089.3L490.7 1094.9L492.5 1074.9L494.3 1082.3L496.1 1121.1L497.9 1076.6L499.6 1085.3L501.1 1037.4L503.2 1087.8L504.9 1093.9L506.7 1091.6L508.4 1084.5L510.1 1055.7L511.9 1039.4L513.6 1066.1L516.1 1030.8L517.0 1080.3L518.7 1071.0L520.4 1088.4L522.1 1071.7L523.8 1077.2L525.5 1077.4L527.1 1089.5L528.8 1108.5L530.5 1122.1L532.1 1074.7L533.8 1085.4L535.4 1070.0L537.1 1086.3L538.7 1053.7L540.3 1028.4L541.9 1032.0L543.6 1017.4L545.2 1007.1L546.8 1007.5L548.4 1012.3L549.9 992.6L551.6 1008.2L553.1 1022.3L554.7 998.8L556.3 1003.6L557.4 995.1L559.4 1008.9L561.0 1003.0L562.5 1002.7L564.0 1007.6L565.6 1046.0L567.1 1055.5L568.7 1047.1L570.2 1060.4L571.5 1015.9L573.2 1077.1L574.7 1085.1L576.3 1067.4L577.8 1101.3L579.2 1080.7L580.7 1093.1L582.2 1075.4L583.7 1116.7L585.2 1088.6L586.7 1082.6L588.1 1095.4L589.6 1087.2L591.1 1100.6L592.5 1092.6L594.0 1121.4L595.4 1081.4L596.8 1097.2L598.3 1075.3L599.7 1097.9L601.1 1102.9L602.6 1052.9L604.0 1087.6L605.4 1062.3L606.8 1136.7L608.0 1064.0L609.6 1076.7L611.0 1070.8L612.4 1081.5L613.8 1090.9L615.2 1081.1L616.6 1118.6L618.0 1083.4L619.3 1091.1L620.7 1088.4L622.1 1100.8L623.4 1085.4L624.8 1106.9L626.1 1068.3L627.5 1102.8L628.8 1076.8L630.2 1085.2L631.5 1127.8L632.9 1092.4L634.2 1134.7L635.5 1101.2L636.8 1067.1L638.2 1091.2L639.5 1099.8L640.8 1109.7L642.1 1128.5L643.4 1133.1L644.7 1075.9L646.0 1082.9L647.3 1109.3L648.6 1072.5L649.9 1106.2L651.2 1098.5L652.4 1089.1L653.7 1086.2L655.0 1103.3L656.3 1105.6L657.5 1100.0L658.8 1100.4L660.0 1129.3L661.3 1098.2L662.6 1083.2L663.8 1111.4L665.0 1130.5L666.3 1070.4L667.5 1100.8L668.8 1086.8L670.0 1080.9L671.2 1079.2L672.5 1094.8L673.7 1056.5L674.9 1047.7L676.1 1047.0L677.3 1045.9L678.5 1053.7L679.7 1043.5L681.0 1004.9L682.2 1001.4L683.4 1026.2L684.7 992.6L685.7 1019.6L686.9 1027.8L688.1 1023.8L689.3 1021.0L690.5 1043.9L691.9 1007.6L692.8 1055.3L694.0 1081.5L695.2 1049.0L696.3 1063.1L697.5 1035.9L698.7 1088.3L699.8 1068.7L701.0 1039.0L702.1 1111.1L703.3 1090.5L704.4 1084.7L705.6 1102.9L706.7 1057.0L707.8 1080.6L709.0 1116.9L710.1 1090.2L711.2 1066.8L712.4 1084.6L713.5 1094.1L714.6 1122.2L715.7 1096.1L716.8 1092.0L718.0 1102.3L719.1 1085.6L720.2 1065.4L721.3 1079.9L722.4 1102.5L723.5 1108.6L724.6 1101.3L725.7 1094.2L726.8 1081.1L727.9 1080.5L729.1 1047.4L730.0 1088.9L731.1 1066.0L732.2 1114.8L733.3 1099.8L734.3 1070.3L735.4 1080.6L736.5 1102.6L737.6 1084.0L738.6 1108.1L739.7 1105.4L740.7 1090.1L741.8 1089.1L742.9 1096.6L743.9 1058.3L745.0 1083.0L746.0 1106.5L747.1 1085.0L748.1 1109.0L749.1 1114.6L750.2 1095.9L751.2 1123.6L752.3 1084.2L753.3 1104.5L754.3 1117.6L755.3 1128.9L756.4 1067.9L757.4 1110.5L758.4 1075.1L759.4 1088.1L760.4 1085.7L761.5 1107.6L762.5 1124.0L763.5 1090.5L764.5 1082.4L765.5 1098.8L766.5 1073.4L767.5 1091.8L768.5 1089.8L769.5 1049.8L770.5 1067.3L771.5 1072.9L772.5 1077.2L773.5 1092.6L774.5 1083.7L775.4 1095.7L776.4 1115.1L777.4 1113.1L778.4 1077.9L779.4 1097.1L780.3 1084.3L781.3 1077.8L782.3 1061.2L783.2 1080.6L784.2 1092.9L785.2 1099.2L786.1 1094.6L787.1 1100.9L788.1 1093.6L789.0 1068.0L790.0 1126.7L790.9 1094.7L791.9 1067.0L792.8 1104.0L793.8 1102.6L794.7 1087.2L795.7 1065.8L796.6 1094.2L797.5 1101.1L798.5 1089.2L799.4 1117.7L800.3 1077.5L801.3 1085.8L802.2 1109.9L803.1 1061.7L804.1 1124.1L805.0 1072.2L805.9 1109.7L806.8 1093.2L807.7 1104.0L808.7 1103.6L809.6 1062.1L810.5 1108.1L811.4 1102.1L812.3 1088.1L813.2 1102.7L814.1 1077.9L815.0 1073.0L815.9 1062.8L816.8 1099.6L817.7 1058.0L818.6 1078.1L819.5 1100.2L820.4 1087.1L821.3 1065.4L822.2 1079.8L823.1 1101.0L824.0 1088.6L824.9 1092.9L825.8 1117.8L826.6 1088.9L827.5 1076.0L828.4 1066.6L829.3 1088.0L830.2 1120.8L831.0 1076.1L831.9 1072.2L832.8 1097.9L833.6 1096.0L834.5 1112.5L835.4 1076.4L836.2 1085.7L837.1 1075.7L838.0 1096.2L838.8 1089.7L839.7 1081.1L840.5 1075.6L841.4 1089.3L842.3 1078.2L843.1 1096.9L844.0 1116.5L844.8 1109.1L845.7 1116.1L846.5 1122.1L847.3 1064.7L848.2 1107.1L849.0 1085.6L850.2 1044.1L851.5 1081.7L852.4 1104.8L853.2 1072.1L854.0 1073.9L854.9 1081.0L855.7 1103.0L856.5 1085.7L857.4 1111.0L858.2 1101.0L859.0 1079.5L859.8 1086.0L860.7 1072.3L861.5 1090.2L862.3 1095.5L863.1 1089.5L863.9 1107.9L864.7 1096.0L865.6 1120.9L866.4 1069.4L867.2 1072.3L868.0 1086.1L868.8 1088.8L869.6 1087.8L870.4 1082.8L871.2 1102.2L872.0 1080.7L872.8 1107.1L873.6 1101.1L874.4 1099.8L875.2 1113.6L876.0 1095.1L876.8 1087.3L877.6 1094.3L878.4 1102.6L879.2 1092.6L879.9 1086.2L880.7 1115.8L881.5 1075.5L882.3 1080.3L883.1 1076.7L883.9 1096.8L884.6 1048.3L885.4 1090.1L886.2 1101.8L887.0 1122.0L887.8 1104.1L888.5 1102.6L889.3 1068.2L890.1 1103.1L890.8 1102.2L891.6 1086.4L892.4 1084.9L893.1 1059.7L893.9 1108.6L894.7 1088.6L895.4 1062.6L896.2 1074.1L897.0 1092.2L897.7 1067.2L898.5 1052.6L899.2 1044.7L900.0 1092.8L900.7 1057.2L901.5 1087.6L902.2 1088.2L903.0 1064.3L903.7 1111.1L904.5 1071.6L905.2 1082.6L906.0 1125.0L906.7 1071.1L907.5 1087.1L908.2 1067.7L908.9 1091.3L909.7 1084.4L910.4 1077.9L911.2 1085.9L911.9 1052.5L912.6 1068.3L913.4 1091.9L914.1 1076.3L914.8 1067.5L915.6 1082.3L916.3 1086.1L917.0 1062.2L917.7 1069.9L918.5 1076.8L919.2 1062.7L919.9 1077.0L920.6 1090.0L921.4 1052.1L922.1 1082.7L922.8 1043.5L923.5 1082.7L924.2 1079.0L925.0 1074.8L925.7 1072.4L926.4 1082.9L927.1 1083.7L927.8 1055.9L928.5 1055.7L929.2 1079.8L929.9 1067.0L930.6 1097.3L931.3 1047.7L932.0 1072.9L932.8 1064.6L933.5 1059.5L934.2 1077.4L934.9 1078.8L935.6 1067.9L936.3 1067.9L937.0 1049.4L937.7 1077.2L938.3 1044.3L939.0 1067.0L939.7 1062.9L940.4 1050.0L941.1 1063.9L941.8 1027.6L942.5 1075.6L943.2 1068.0L943.9 1073.5L944.6 1072.0L945.2 1040.3L945.9 1050.6L946.6 1042.4L947.3 1050.7L948.0 1060.2L948.7 1058.1L949.3 1056.6L950.0 1073.1L950.7 1044.0L951.4 1057.0L952.0 1073.4L952.7 1045.3L953.4 1056.9L954.1 1033.2L954.7 1039.3L955.4 1062.0L956.1 1069.5L956.7 1052.2L957.4 1014.4L958.1 1037.0L958.8 1081.5L959.4 1075.2L960.1 1024.9L960.7 1078.3L961.4 1107.4L962.1 1037.5L962.7 1030.0L963.4 1071.7L964.0 1049.6L964.7 1049.1L965.4 1083.9L966.0 1048.7L966.7 1064.4L967.3 1020.9L968.0 1037.2L968.6 1047.8L969.3 1069.3L969.9 1040.5L970.6 1047.8L971.2 1038.2L971.9 1031.1L972.5 1070.2L973.2 1075.3L973.8 1068.9L974.5 1010.0L975.1 1031.6L975.7 1022.1L976.4 1063.9L977.0 1072.7L977.7 1056.5L978.3 1030.7L978.9 1062.2L979.6 1054.7L980.2 1048.6L980.9 1034.5L981.5 1035.3L982.1 1012.1L982.8 1035.4L983.4 1024.4L984.0 1036.9L984.6 1026.8L985.3 994.8L985.9 1023.2L986.5 1012.7L987.2 1065.9L987.8 1029.9L988.4 1044.6L989.0 1029.7L989.7 1045.0L990.3 1051.0L990.9 1065.4L991.5 1050.8L992.1 1007.0L992.8 1016.9L993.4 1050.3L994.0 1034.2L994.6 1031.5L995.2 1034.7L995.8 1036.0L996.5 1037.4L997.1 1008.1L997.7 1040.1L998.3 1048.9L998.9 1049.3L999.5 1027.9L1000.1 1002.7L1000.7 1045.7L1001.3 1057.4L1002.0 1005.1L1002.6 1029.8L1003.2 982.6L1003.8 1032.3L1004.4 1016.5L1005.0 1039.4L1005.6 1051.1L1006.2 1012.4L1006.8 1013.5L1007.4 1030.3L1008.0 1003.8L1008.6 1020.8L1009.2 1039.0L1009.8 993.2L1010.4 985.3L1011.0 999.7L1011.6 980.7L1012.2 1013.5L1012.8 1042.7L1013.3 997.5L1013.9 1007.3L1014.5 1023.4L1015.1 1023.8L1015.7 987.8L1016.3 1033.7L1016.9 1021.9L1017.5 1004.9L1018.1 1013.9L1018.7 998.2L1019.2 1020.0L1019.8 1041.2L1020.4 999.2L1021.0 1015.0L1021.6 1038.9L1022.2 1027.0L1022.7 1032.6L1023.3 1002.2L1023.9 1042.1L1024.5 1012.2L1025.1 1050.7L1025.6 1009.0L1026.2 1015.0L1026.8 999.2L1027.4 968.4L1027.9 1016.3L1028.5 996.6L1029.1 1005.2L1029.7 1005.1L1030.2 1009.3L1030.8 996.0L1031.4 969.3L1031.9 1010.6L1032.5 970.0L1033.1 978.0L1033.6 1029.9L1034.2 1007.9L1034.8 979.1L1035.3 1007.0L1035.9 1016.1L1036.5 969.9L1037.0 999.1L1037.6 1013.4L1038.2 1033.0L1038.7 976.4L1039.3 1001.7L1039.8 1000.0L1040.4 1004.9L1041.0 1000.0L1041.5 1019.6L1042.1 981.0L1042.6 975.2L1043.2 994.4L1043.7 992.6L1044.3 979.8L1044.9 1014.7L1045.4 983.6L1046.0 964.5L1046.5 1000.5L1047.1 972.7L1047.6 975.6L1048.2 988.8L1048.7 991.5L1049.3 1007.7L1049.8 989.9L1050.4 986.8L1050.9 988.5L1051.5 1016.9L1052.0 985.6L1052.5 949.4L1053.1 993.4L1053.6 986.2L1054.2 966.3L1054.7 934.1L1055.3 988.8L1055.8 977.8L1056.3 968.8L1056.9 990.0L1057.4 969.7L1058.0 959.6L1058.5 973.4L1059.0 995.8L1059.6 971.9L1060.1 1001.4L1060.6 974.2L1061.2 990.6L1061.7 947.1L1062.3 973.9L1062.8 957.8L1063.3 965.3L1063.9 958.3L1064.4 970.4L1064.9 953.8L1065.4 957.9L1066.0 978.7L1066.5 948.5L1067.0 973.0L1067.6 954.1L1068.1 968.3L1068.6 961.9L1069.1 962.5L1069.7 956.6L1070.2 992.8L1070.7 989.1L1071.2 945.1L1071.8 968.6L1072.3 979.6L1072.8 967.3L1073.3 962.4L1073.9 939.7L1074.4 976.0L1074.9 969.5L1075.4 984.7L1075.9 988.4L1076.4 948.9L1077.0 941.1L1077.5 974.1L1078.0 990.6L1078.5 950.2L1079.0 985.3L1079.5 942.1L1080.1 941.8L1080.6 959.7L1081.1 928.2L1081.6 941.3L1082.1 923.4L1082.6 968.1L1083.1 930.7L1083.6 947.0L1084.2 917.4L1084.7 973.5L1085.2 978.0L1085.7 939.8L1086.2 935.0L1086.7 954.2L1087.2 944.5L1087.7 956.0L1088.2 910.9L1088.7 968.5L1089.2 944.8L1089.7 974.4L1090.2 924.4L1090.7 908.3L1091.2 947.5L1091.7 951.2L1092.2 960.3L1092.7 938.9L1093.2 918.2L1093.7 937.3L1094.2 934.4L1094.7 910.5L1095.2 929.7L1095.7 939.0L1096.2 924.4L1096.7 936.0L1097.2 915.6L1097.7 925.5L1098.2 925.9L1098.7 942.4L1099.2 916.0L1099.7 930.2L1100.2 961.8L1100.7 923.2L1101.2 938.1L1101.7 886.7L1102.1 891.0L1102.6 908.8L1103.1 942.1L1103.6 901.1L1104.1 916.2L1104.6 922.3L1105.1 891.6L1105.6 910.7L1106.1 910.5L1106.5 892.5L1107.0 894.7L1107.5 900.3L1108.0 946.7L1108.5 924.1L1109.0 877.0L1109.4 873.8L1109.9 933.1L1110.4 891.0L1110.9 900.0L1111.4 885.7L1111.8 932.6L1112.3 857.0L1112.8 939.9L1113.3 928.1L1113.8 900.2L1114.2 873.4L1114.7 860.1L1115.2 865.9L1115.7 923.7L1116.2 925.4L1116.6 892.9L1117.1 880.7L1117.6 895.3L1118.1 876.6L1118.5 868.8L1119.0 869.4L1119.5 895.1L1119.9 842.3L1120.4 885.0L1120.9 897.3L1121.4 850.6L1121.8 867.7L1122.3 897.6L1122.8 865.9L1123.2 877.9L1123.7 870.3L1124.2 816.3L1124.6 873.4L1125.1 851.8L1125.6 844.3L1126.0 877.5L1126.5 826.6L1127.0 890.4L1127.4 880.7L1127.9 845.2L1128.4 869.9L1128.8 872.6L1129.3 860.0L1129.8 827.8L1130.2 828.7L1130.7 850.5L1131.1 864.8L1131.6 826.3L1132.1 829.5L1132.5 879.6L1133.0 826.2L1133.4 867.1L1133.9 816.2L1134.4 808.7L1134.8 810.4L1135.3 844.0L1135.7 788.8L1136.2 835.1L1136.6 786.5L1137.1 828.0L1137.5 802.0L1138.0 817.6L1138.5 825.3L1138.9 839.8L1139.4 796.0L1139.8 773.5L1140.3 804.8L1140.7 769.2L1141.2 825.9L1141.6 834.9L1142.1 811.7L1142.5 805.0L1143.0 776.2L1143.4 785.5L1143.9 804.6L1144.3 760.9L1144.8 780.2L1145.2 756.2L1145.7 793.4L1146.1 767.9L1146.6 739.7L1147.0 770.4L1147.4 775.1L1147.9 763.3L1148.3 735.5L1148.8 744.8L1149.2 757.6L1149.7 768.4L1150.1 797.3L1150.6 709.4L1151.0 754.5L1151.4 747.8L1151.9 735.7L1152.3 763.8L1152.8 743.0L1153.2 729.9L1153.6 738.2L1154.1 740.1L1154.5 723.0L1155.0 718.8L1155.4 712.0L1155.8 705.9L1156.3 707.5L1156.7 716.6L1157.1 714.2L1157.6 676.3L1158.0 715.5L1158.4 681.9L1158.9 701.8L1159.3 692.0L1159.7 748.9L1160.2 738.4L1160.6 660.8L1161.0 685.8L1161.5 653.0L1161.9 659.6L1162.3 633.5L1162.8 651.0L1163.2 665.1L1163.6 596.6L1164.1 597.3L1164.5 625.1L1164.9 633.2L1165.4 655.9L1165.8 617.5L1166.2 583.6L1166.6 627.7L1167.1 590.4L1167.5 618.7L1167.9 571.5L1168.3 621.0L1168.8 595.1L1169.2 614.7L1169.6 579.1L1170.0 555.5L1170.5 553.0L1170.9 574.2L1171.3 531.2L1171.7 537.8L1172.2 516.3L1172.6 545.4L1173.0 486.7L1173.4 503.1L1173.8 492.6L1174.3 443.4L1174.7 481.1L1175.1 415.5L1175.5 406.2L1175.9 345.2L1176.4 315.7L1176.8 254.4L1178.0 108.0L1179.3 278.6L1179.7 301.0L1180.1 308.7L1180.5 297.6L1180.9 382.1L1181.4 386.9L1181.8 447.3L1182.2 428.9L1182.6 442.4L1183.0 510.9L1183.4 453.0L1183.8 484.7L1184.2 484.7L1184.7 557.4L1185.1 565.3L1185.5 505.4L1185.9 555.8L1186.3 542.8L1186.7 555.3L1187.1 538.0L1187.5 545.3L1187.9 571.0L1188.3 584.7L1188.8 614.8L1189.2 568.5L1189.6 604.9L1190.0 631.1L1190.4 607.9L1190.8 625.3L1191.2 574.9L1191.6 576.3L1192.0 663.4L1192.4 607.2L1192.8 605.9L1193.2 648.5L1193.6 642.0L1194.0 616.2L1194.4 607.8L1194.8 602.0L1195.2 630.0L1195.6 599.0L1196.0 590.5L1196.4 645.5L1196.8 612.4L1197.2 654.0L1197.6 648.3L1198.0 613.7L1198.4 609.9L1198.8 616.9L1199.2 648.9L1199.6 617.9L1200.0 614.3L1200.4 624.5L1200.8 623.3L1201.2 671.4L1201.6 630.2L1202.0 651.2L1202.4 592.6L1202.8 588.6L1203.2 619.3L1203.6 626.8L1204.0 610.1L1204.4 609.2L1204.8 593.1L1205.2 603.0L1205.6 587.4L1206.0 581.0L1206.4 631.7L1206.7 637.3L1207.1 589.6L1207.5 596.2L1207.9 570.2L1208.3 579.1L1208.7 541.2L1209.1 598.7L1209.5 593.9L1209.9 570.2L1210.3 563.5L1210.7 599.8L1211.0 558.1L1211.4 538.6L1211.8 549.6L1212.2 576.3L1212.6 529.0L1213.0 563.0L1213.4 534.4L1213.8 532.8L1214.1 563.5L1214.5 519.8L1214.9 534.8L1215.3 555.3L1215.7 476.5L1216.1 525.0L1216.5 468.1L1216.8 469.8L1217.2 485.4L1217.6 462.0L1218.0 477.4L1218.4 488.9L1218.8 447.4L1219.1 434.4L1219.5 432.3L1219.9 425.5L1220.3 408.3L1220.7 398.2L1221.0 384.7L1221.4 409.0L1221.8 346.7L1222.2 307.5L1222.6 303.5L1222.9 303.3L1223.3 257.9L1223.7 264.9L1224.1 270.3L1224.5 181.9L1224.8 180.2L1226.0 64.5L1227.1 158.2L1227.5 232.0L1227.8 254.0L1228.2 243.6L1228.6 273.1L1229.0 299.2L1229.3 350.5L1229.7 347.2L1230.1 419.1L1230.5 368.4L1230.8 447.6L1231.2 394.5L1231.6 436.9L1232.0 481.0L1232.3 438.8L1232.7 474.5L1233.1 420.0L1233.4 463.5L1233.8 496.6L1234.2 501.3L1234.5 488.7L1234.9 539.3L1235.3 532.8L1235.7 502.5L1236.0 495.5L1236.4 529.7L1236.8 507.2L1237.1 525.4L1237.5 493.9L1237.9 537.2L1238.2 513.7L1238.6 556.4L1239.0 579.0L1239.3 584.3L1239.7 564.2L1240.1 632.0L1240.4 595.8L1240.8 626.3L1241.2 614.7L1241.5 589.3L1241.9 593.6L1242.2 632.3L1242.6 606.9L1243.0 597.6L1243.3 577.5L1243.7 640.8L1244.1 614.8L1244.4 608.6L1244.8 577.2L1245.1 638.1L1245.5 615.2L1245.9 600.5L1246.2 648.6L1246.6 596.6L1247.0 611.1L1247.3 646.3L1247.7 606.2L1248.0 585.0L1248.4 624.4L1248.8 587.2L1249.1 623.2L1249.5 590.6L1249.8 627.9L1250.2 595.1L1250.5 605.7L1250.9 607.6L1251.3 635.7L1251.6 590.5L1252.0 631.2L1252.3 648.5L1252.7 625.6L1253.0 618.3L1253.4 655.3L1253.7 651.8L1254.1 654.0L1254.5 614.5L1254.8 632.3L1255.2 624.1L1255.5 616.0L1255.9 611.6L1256.2 609.8L1256.6 587.4L1256.9 637.3L1257.3 621.4L1257.6 684.4L1258.0 623.0L1258.3 589.8L1258.7 593.5L1259.0 630.2L1259.4 611.2L1259.7 594.4L1260.1 597.3L1260.4 613.3L1260.8 611.2L1261.1 646.1L1261.5 627.5L1261.8 603.0L1262.2 604.4L1262.5 592.2L1262.9 602.6L1263.2 647.3L1263.6 569.4L1263.9 590.6L1264.3 597.8L1264.6 629.6L1265.0 612.9L1265.3 576.2L1265.7 594.8L1266.0 574.2L1266.4 603.4L1266.7 590.9L1267.0 574.9L1267.4 606.4L1267.7 595.2L1268.1 583.5L1268.4 550.5L1268.8 602.8L1269.1 562.0L1269.5 589.9L1269.8 573.9L1270.1 567.8L1270.5 585.4L1270.8 557.8L1271.2 539.2L1271.5 543.7L1271.8 534.5L1272.2 568.3L1272.5 563.4L1272.9 505.5L1273.2 536.9L1273.6 569.6L1273.9 533.5L1274.2 526.9L1274.6 549.6L1274.9 512.0L1275.3 544.7L1275.6 498.0L1275.9 512.4L1276.3 486.1L1276.6 509.1L1276.9 469.6L1277.3 491.7L1277.6 474.7L1278.0 511.7L1278.3 521.8L1278.6 481.0L1279.0 444.5L1279.3 461.9L1279.6 482.4L1280.0 471.7L1280.3 458.1L1280.6 484.5L1281.0 407.4L1281.3 392.2L1281.6 433.5L1282.0 403.9L1282.3 418.5L1282.7 412.4L1283.0 392.7L1283.3 370.9L1283.7 351.5L1284.0 345.6L1284.3 386.9L1284.6 346.3L1285.0 292.5L1285.3 318.6L1285.6 298.4L1286.0 249.2L1286.3 278.8L1286.6 228.8L1287.0 215.0L1287.3 222.2L1287.6 201.3L1288.0 170.8L1288.9 108.0L1289.9 192.4L1290.3 218.2L1290.6 237.0L1290.9 250.3L1291.2 265.4L1291.6 337.6L1291.9 327.1L1292.2 290.3L1292.6 335.7L1292.9 363.3L1293.2 341.4L1293.5 335.7L1293.9 374.9L1294.2 403.0L1294.5 394.1L1294.8 383.9L1295.2 404.3L1295.5 379.8L1295.8 436.2L1296.1 456.8L1296.5 461.8L1296.8 429.7L1297.1 467.4L1297.4 404.4L1297.8 426.2L1298.1 434.0L1298.4 454.8L1298.7 484.3L1299.0 495.4L1299.4 453.9L1299.7 467.3L1300.0 527.5L1300.3 512.8L1300.7 501.0L1301.0 522.5L1301.3 543.1L1301.6 515.1L1301.9 508.3L1302.3 507.5L1302.6 489.6L1302.9 524.3L1303.2 526.3L1303.5 530.0L1303.9 531.5L1304.2 576.2L1304.5 538.5L1304.8 611.9L1305.1 550.5L1305.4 583.7L1305.8 538.5L1306.1 548.5L1306.4 542.6L1306.7 572.8L1307.0 571.7L1307.4 593.5L1307.7 572.6L1308.0 560.7L1308.3 562.3L1308.6 549.4L1308.9 606.7L1309.2 558.6L1309.6 579.6L1309.9 617.2L1310.2 596.8L1310.5 632.8L1310.8 593.6L1311.1 554.1L1311.4 612.1L1311.8 599.7L1312.1 586.7L1312.4 569.5L1312.7 621.6L1313.0 561.1L1313.3 622.8L1313.6 586.5L1314.0 614.3L1314.3 569.9L1314.6 601.2L1314.9 582.6L1315.2 617.2L1315.5 608.1L1315.8 621.0L1316.1 613.6L1316.4 611.5L1316.8 594.7L1317.1 584.5L1317.4 597.0L1317.7 594.8L1318.0 579.4L1318.3 617.9L1318.6 640.5L1318.9 615.7L1319.2 584.6L1319.5 600.1L1319.8 599.1L1320.2 624.0L1320.5 564.3L1320.8 580.9L1321.1 628.5L1321.4 633.7L1321.7 611.6L1322.0 596.7L1322.3 585.3L1322.6 656.0L1322.9 600.7L1323.2 650.2L1323.5 604.3L1323.8 613.3L1324.1 564.8L1324.4 581.0L1324.8 663.8L1325.1 591.5L1325.4 593.5L1325.7 602.7L1326.0 597.3L1326.3 558.0L1326.6 630.0L1326.9 586.6L1327.2 586.8L1327.5 605.2L1327.8 620.8L1328.1 596.1L1328.4 587.7L1328.7 631.5L1329.0 569.4L1329.3 614.3L1329.6 616.1L1329.9 586.9L1330.2 591.9L1330.5 634.7L1330.8 584.7L1331.1 579.8L1331.4 597.7L1331.7 638.6L1332.0 620.6L1332.3 640.2L1332.6 606.3L1332.9 593.4L1333.2 624.4L1333.5 583.7L1333.8 608.2L1334.1 621.2L1334.4 608.2L1334.7 581.1L1335.0 591.7L1335.3 593.2L1335.6 580.1L1335.9 595.9L1336.2 634.2L1336.5 601.5L1336.8 602.2L1337.1 586.4L1337.4 580.6L1337.7 572.5L1338.0 604.1L1338.3 565.9L1338.6 595.9L1338.9 579.1L1339.2 569.5L1339.5 615.1L1339.8 556.4L1340.1 611.5L1340.4 595.7L1340.7 568.2L1340.9 584.5L1341.2 579.0L1341.5 570.5L1341.8 589.6L1342.1 553.6L1342.4 595.9L1342.7 592.2L1343.0 594.6L1343.3 605.3L1343.6 596.6L1343.9 603.3L1344.2 574.7L1344.5 619.4L1344.8 588.8L1345.1 539.7L1345.3 506.5L1345.6 545.6L1345.9 532.6L1346.2 496.3L1346.5 498.2L1346.8 503.8L1347.1 488.4L1347.4 475.1L1347.7 453.2L1348.0 451.1L1348.3 446.8L1348.5 466.7L1348.8 436.8L1349.1 452.0L1349.4 451.7L1349.7 457.9L1350.0 434.7L1350.3 415.0L1350.6 460.1L1350.9 405.6L1351.2 400.0L1351.4 412.8L1351.7 406.7L1352.0 371.0L1352.3 373.8L1352.6 328.0L1352.9 306.9L1353.2 291.3L1353.5 302.4L1353.7 277.5L1354.0 242.5L1355.0 167.0L1356.0 258.9L1356.3 308.7L1356.6 304.5L1356.9 359.0L1357.2 310.3L1357.5 325.5L1357.7 360.1L1358.0 352.0L1358.3 343.3L1358.6 379.1L1358.9 359.4L1359.2 380.3L1359.4 394.0L1359.7 387.0L1360.0 427.7L1360.3 386.1L1360.6 467.8L1360.9 453.9L1361.1 440.0L1361.4 442.4L1361.7 458.1L1362.0 490.1L1362.3 482.5L1362.5 450.4L1362.8 475.6L1363.1 480.2L1363.4 473.3L1363.7 508.1L1364.0 482.2L1364.2 535.2L1364.5 521.8L1364.8 472.7L1365.1 542.3L1365.4 534.7L1365.6 522.0L1365.9 525.8L1366.2 572.3L1366.5 546.5L1366.7 534.1L1367.0 610.4L1367.3 581.6L1367.6 568.8L1367.9 624.8L1368.1 572.3L1368.4 629.6L1368.7 577.2L1369.0 618.4L1369.3 623.6L1369.5 582.6L1369.8 613.6L1370.1 631.7L1370.4 635.0L1370.6 651.8L1370.9 655.3L1371.2 645.1L1371.5 600.5L1371.7 637.1L1372.0 615.6L1372.3 671.4L1372.6 653.4L1372.8 618.4L1373.1 677.2L1373.4 646.1L1373.7 687.8L1373.9 718.1L1374.2 665.3L1374.5 701.4L1374.8 663.2L1375.0 673.0L1375.3 679.8L1375.6 675.7L1375.9 661.1L1376.1 671.7L1376.4 656.8L1376.7 722.9L1377.0 755.8L1377.2 728.9L1377.5 668.9L1377.8 675.5L1378.0 685.9L1378.3 706.4L1378.6 720.8L1378.9 699.3L1379.1 687.7L1379.4 715.2L1379.7 695.1L1380.0 699.4L1380.2 665.6L1380.5 726.3L1380.8 689.7L1381.0 674.1L1381.3 693.8L1381.6 678.6L1381.8 716.2L1382.1 708.0L1382.4 687.2L1382.7 666.9L1382.9 705.0L1383.2 732.1L1383.5 746.5L1383.7 709.5L1384.0 675.7L1384.3 725.2L1384.5 677.4L1384.8 707.4L1385.1 697.0L1385.3 720.5L1385.6 740.0L1385.9 739.6L1386.1 698.8L1386.4 746.2L1386.7 684.2L1387.0 690.6L1387.2 689.8L1387.5 729.9L1387.8 734.3L1388.0 740.1L1388.3 742.7L1388.6 694.0L1388.8 738.4L1389.1 772.5L1389.4 703.3L1389.6 688.3L1389.9 776.1L1390.1 718.9L1390.4 688.7L1390.7 707.6L1390.9 754.7L1391.2 684.2L1391.5 757.0L1391.7 675.3L1392.0 736.2L1392.3 683.4L1392.5 700.7L1392.8 742.1L1393.1 721.1L1393.3 720.7L1393.6 688.0L1393.8 720.8L1394.1 672.9L1394.4 665.8L1394.6 717.1L1394.9 693.1L1395.2 669.9L1395.4 680.7L1395.7 680.4L1395.9 737.7L1396.2 702.6L1396.5 686.9L1396.7 686.2L1397.0 681.3L1397.3 695.1L1397.5 719.6L1397.8 710.1L1398.0 678.8L1398.3 683.3L1398.6 703.1L1398.8 687.6L1399.1 744.3L1399.3 658.1L1399.6 705.5L1399.9 691.5L1400.1 708.9L1400.4 736.1L1400.6 719.8L1400.9 708.9L1401.2 684.8L1401.4 704.9L1401.7 711.7L1401.9 724.5L1402.2 722.8L1402.5 649.4L1402.7 675.1L1403.0 738.1L1403.2 709.2L1403.5 673.2L1403.7 679.2L1404.0 614.9L1404.3 712.8L1404.5 697.9L1404.8 653.8L1405.0 681.9L1405.3 751.4L1405.5 680.8L1405.8 675.6L1406.1 708.0L1406.3 665.9L1406.6 681.8L1406.8 635.9L1407.1 704.7L1407.3 648.4L1407.6 657.1L1407.9 644.3L1408.1 663.6L1408.4 625.9L1408.6 657.0L1408.9 655.5L1409.1 630.8L1409.4 636.0L1409.6 647.4L1409.9 609.2L1410.1 588.7L1410.4 564.4L1410.7 570.6L1410.9 607.2L1411.2 575.6L1411.4 576.0L1411.7 577.6L1411.9 589.2L1412.2 553.4L1412.4 575.2L1412.7 559.5L1412.9 535.6L1413.2 563.7L1413.4 521.4L1413.7 569.7L1413.9 558.7L1414.2 517.4L1414.5 557.3L1414.7 525.9L1415.0 521.7L1415.2 549.6L1415.5 503.0L1415.7 535.9L1416.0 508.2L1416.2 502.3L1416.5 490.7L1416.7 450.7L1417.0 532.6L1417.2 528.0L1417.5 526.8L1417.7 465.3L1418.0 467.7L1418.2 485.1L1418.5 448.0L1418.7 483.4L1419.0 455.9L1419.2 471.3L1419.5 461.7L1419.7 440.8L1420.0 444.8L1420.2 402.0L1420.5 392.5L1420.7 442.4L1421.0 458.1L1421.2 376.5L1421.5 412.6L1421.7 359.6L1422.0 380.4L1422.2 363.0L1422.4 348.3L1422.7 336.5L1422.9 340.0L1423.2 342.7L1423.4 294.3L1423.7 271.4L1423.9 266.4L1425.0 223.0L1425.9 274.5L1426.1 297.0L1426.4 272.6L1426.6 306.1L1426.9 297.3L1427.1 367.1L1427.4 348.3L1427.6 372.3L1427.9 377.1L1428.1 337.7L1428.4 405.7L1428.6 398.1L1428.8 378.2L1429.1 439.8L1429.3 410.1L1429.6 405.0L1429.8 439.5L1430.1 463.4L1430.3 453.9L1430.6 466.7L1430.8 484.3L1431.0 427.6L1431.3 467.6L1431.5 450.7L1431.8 462.8L1432.0 515.4L1432.3 479.0L1432.5 513.1L1432.7 480.1L1433.0 532.5L1433.2 531.1L1433.5 505.8L1433.7 493.6L1433.9 538.7L1434.2 546.4L1434.4 499.9L1434.7 483.5L1434.9 508.3L1435.2 491.7L1435.4 456.5L1435.6 468.1L1435.9 482.8L1436.1 530.8L1436.4 446.4L1436.6 434.9L1436.8 459.8L1437.1 477.0L1437.3 463.5L1437.6 457.0L1437.8 424.6L1438.0 419.8L1438.3 390.8L1438.5 424.1L1438.8 435.5L1439.0 410.2L1439.2 318.3L1439.5 394.1L1439.7 334.6L1440.0 378.3L1440.2 368.6L1440.4 339.7L1440.7 282.7L1440.9 321.5L1442.0 227.0L1443.0 300.9L1443.3 316.2L1443.5 364.6L1443.8 330.8L1444.0 405.4L1444.2 416.9L1444.5 435.8L1444.7 369.5L1444.9 429.3L1445.2 438.0L1445.4 460.4L1445.6 460.6L1445.9 456.6L1446.1 451.7L1446.4 474.1L1446.6 505.1L1446.8 463.7L1447.1 530.8L1447.3 508.6L1447.5 558.9L1447.8 598.6L1448.0 577.1"/>
<path stroke="#000000" d="M367.6 928.0L369.1 917.9L372.3 955.8L374.9 986.6L376.9 972.2L379.6 950.3L381.5 971.4L383.7 992.5L386.0 1012.4L388.3 1033.7L389.6 1046.4L393.2 997.6L395.7 1016.5L397.1 1010.4L399.0 996.8L401.5 1007.7L403.5 1024.8L405.9 1010.8L408.0 988.6L409.0 983.5L410.2 1002.7L412.3 1025.2L414.0 1046.4L417.3 1005.9L418.7 1038.7L420.6 1079.6L422.9 1040.0L424.9 1008.9L426.4 985.1L429.1 1012.8L430.6 1021.5L433.2 1002.6L434.7 996.2L437.2 973.7L439.4 942.8L441.3 961.6L443.0 976.6L445.3 963.1L446.3 957.7L447.2 962.3L449.2 975.3L451.2 992.0L453.0 1006.2L455.1 1037.9L457.1 1059.7L459.0 1040.1L460.9 1018.3L462.8 1009.1L463.8 998.4L464.7 1002.6L467.1 1036.4L468.5 1022.2L470.4 1003.4L472.3 1021.7L474.6 1058.0L476.0 1043.2L478.7 1012.5L479.7 1019.7L482.0 1049.7L483.4 1035.8L484.5 1025.8L487.0 1076.3L488.9 1056.1L491.2 1035.8L492.8 1053.0L494.5 1014.2L496.1 1018.3L498.6 1033.1L499.6 1017.0L501.4 994.6L502.8 975.2L504.9 1002.4L506.1 1019.8L508.4 1007.8L509.4 993.4L511.9 1012.3L513.6 1023.1L515.3 1010.6L516.4 1000.1L518.7 1022.8L520.2 1039.4L522.1 1059.6L524.4 1082.9L525.5 1076.0L527.1 1047.2L528.5 1030.8L530.5 1022.8L531.7 1030.8L534.2 1072.9L535.4 1061.6L536.6 1029.1L538.7 1052.3L540.0 1059.7L542.5 1025.8L543.6 1044.4L545.8 1053.0L546.8 1043.7L549.1 1017.5L551.6 1056.0L553.1 1097.5L554.6 1116.1L556.3 1087.1L557.4 1052.4L559.4 1067.5L560.7 1086.2L562.5 1060.0L563.7 1034.1L565.6 1074.8L566.9 1077.9L568.7 1053.5L569.8 1044.1L571.7 1061.9L572.8 1077.9L574.7 1040.3L575.7 1029.1L578.5 1097.8L580.7 1041.1L581.8 1024.2L583.7 1060.2L584.8 1072.6L587.3 1096.2L589.8 1035.8L591.1 1024.6L592.5 1034.7L593.9 1030.8L595.4 1044.9L596.8 1052.3L598.1 1063.0L599.7 1040.8L601.4 1020.8L602.6 1019.6L604.0 1033.9L605.4 1021.6L606.4 1036.4L608.2 1017.5L609.6 1001.2L611.3 982.6L612.4 1001.1L613.8 1021.5L616.0 965.2L618.0 953.5L619.3 955.9L621.3 976.3L623.4 976.6L624.6 1012.9L626.1 1028.1L627.9 1036.4L628.8 1038.3L630.2 1012.5L631.5 1017.7L632.9 1024.2L634.6 1019.2L635.5 1022.2L636.8 1048.1L638.7 1063.0L640.4 1002.9L642.1 1000.7L643.4 1006.6L644.6 998.4L646.0 1005.3L647.3 1021.8L648.7 1006.2L649.9 1024.3L652.0 1019.5L653.7 1087.9L655.0 1093.9L656.3 1054.6L657.8 1049.1L658.8 1071.9L660.3 1082.9L661.3 1079.1L662.6 1077.6L664.1 1034.1L665.0 1032.7L666.3 1059.9L667.8 1056.0L668.8 1071.7L670.8 1106.1L672.5 1071.2L673.6 1045.7L674.9 1054.3L676.1 1079.6L677.3 1053.1L678.6 1040.8L679.7 1043.0L681.0 1040.7L682.7 1069.6L684.5 1086.7L686.1 1050.7L688.1 1051.2L689.3 1062.4L690.5 1078.5L691.9 1087.9L692.8 1061.1L694.0 1053.5L695.2 1019.2L696.3 1054.2L697.5 1073.4L698.5 1089.5L699.8 1071.5L701.0 1052.3L702.1 1053.7L703.3 1044.6L704.2 1034.1L705.6 1072.6L707.5 1081.2L709.0 1067.7L710.0 1030.8L711.6 1066.3L713.5 1040.0L714.6 1014.2L715.7 1057.7L717.4 1064.6L719.9 996.2L721.9 979.3L723.5 1027.1L724.9 1026.5L726.8 974.0L728.6 961.1L730.0 978.3L731.1 966.3L732.2 983.9L733.2 986.3L734.3 1019.5L735.7 1048.0L737.6 1034.1L738.6 1033.6L739.8 1007.6L740.7 1031.6L741.8 1025.0L742.9 1064.0L744.0 1077.9L745.0 1066.7L746.8 1001.7L748.1 1033.8L749.8 1069.6L751.2 1055.4L752.3 1015.9L753.3 1025.5L754.3 1047.1L755.3 1058.6L756.4 1076.6L757.3 1079.6L758.4 1080.7L759.8 1027.8L761.5 1027.3L762.5 1007.6L763.9 1010.9L765.5 1003.6L766.4 1013.2L768.4 1005.1L769.5 1003.1L770.5 1024.6L771.5 1024.1L773.0 1064.6L774.5 1040.9L775.4 1060.3L776.4 1034.1L777.4 1069.5L778.4 1061.8L779.4 1068.5L780.3 1081.9L781.3 1097.8L782.3 1101.3L783.8 1034.1L785.2 1047.6L786.3 1084.6L788.3 1011.7L790.0 1008.2L791.3 1058.0L792.8 1057.0L794.6 1025.8L795.7 1007.1L796.6 1036.4L797.5 1012.2L798.8 1021.7L800.3 1056.4L801.3 1056.3L802.2 1030.5L803.1 1045.6L804.1 1040.6L805.0 1014.0L806.2 997.6L807.7 1042.2L808.7 1043.0L809.6 1053.0L811.4 1006.6L812.3 985.7L813.7 979.3L815.0 979.3L815.9 999.5L816.8 995.8L817.7 982.1L818.7 996.2L820.4 1043.8L822.0 1053.0L823.1 1070.2L824.2 1042.4L826.2 1058.0L827.5 1020.3L828.7 1017.5L830.2 990.9L831.0 1012.7L832.8 1015.9L834.5 1004.9L835.4 1043.2L836.2 1038.0L837.8 1059.7L838.8 1043.3L839.7 1014.4L840.5 1015.2L841.9 990.9L843.1 1005.2L844.0 1044.8L844.8 1037.0L846.1 1058.0L847.3 1043.5L848.2 1028.9L849.0 998.2L850.2 987.6L852.4 994.9L854.4 961.1L855.7 977.8L856.9 965.0L858.2 948.8L859.7 957.7L860.7 958.4L861.5 976.0L862.3 988.5L863.5 989.6L864.7 1010.8L866.0 1028.1L867.2 1011.2L868.0 1004.1L868.8 983.1L869.6 1011.0L870.4 980.2L871.2 979.3L872.0 1007.2L873.3 974.3L874.4 1020.5L875.2 1014.7L876.0 988.1L876.8 1046.0L877.6 1020.8L879.1 1058.0L880.7 1021.2L881.5 1046.0L882.3 1028.4L883.1 1035.5L884.6 982.6L886.2 998.7L887.0 1003.5L887.8 997.5L888.5 1026.5L889.3 1048.6L890.1 1023.8L890.8 1026.0L891.6 1012.1L892.4 1029.8L893.1 1053.6L894.1 1064.6L895.4 1049.8L896.2 998.1L897.0 1000.8L897.7 1036.6L898.5 1034.7L899.2 1009.0L900.0 1042.2L900.7 1020.1L901.5 1029.1L902.2 1009.4L903.0 1020.7L903.7 1036.4L904.5 1042.7L905.2 1041.8L906.0 1011.7L906.7 1011.4L907.5 1031.9L908.2 1013.5L908.9 1010.8L909.7 1015.5L910.4 1014.9L911.2 1038.0L911.9 1033.4L912.6 996.4L913.4 995.4L914.1 1024.5L914.8 977.2L915.6 1020.4L916.3 1021.9L917.0 996.7L917.7 1019.5L918.5 991.7L919.2 1018.2L919.9 999.2L920.6 991.6L921.4 994.2L922.1 1013.0L922.8 1003.3L923.5 1026.8L924.2 1020.4L925.0 1018.3L925.7 1000.3L926.4 1024.3L927.1 1016.6L927.8 1031.7L928.5 1014.3L929.2 986.5L929.9 991.1L931.4 955.3L932.8 1017.6L933.5 1009.8L934.2 969.5L934.9 987.6L935.6 1002.9L936.3 1005.9L937.0 1006.3L937.7 1005.0L938.3 979.4L939.0 979.4L939.7 999.2L940.4 995.7L941.1 986.1L941.8 971.4L942.5 1006.1L943.2 1005.3L943.9 994.2L944.6 1007.1L945.2 1005.3L945.9 993.2L946.6 967.4L947.3 983.0L948.0 954.7L948.7 1011.0L949.3 1001.4L950.0 983.9L950.7 974.4L952.2 944.5L953.4 968.5L954.1 983.7L954.7 988.7L955.4 970.7L956.1 976.5L956.7 982.7L957.4 973.4L958.1 974.8L958.8 961.9L959.4 968.6L960.1 988.7L960.7 968.5L961.4 954.6L962.1 989.6L962.7 969.9L963.8 1042.2L964.7 947.4L965.4 974.1L966.0 990.2L966.7 963.6L967.6 930.4L968.6 941.1L969.3 961.2L969.9 967.4L970.6 952.0L971.2 949.1L971.9 939.5L972.5 983.1L973.2 996.1L973.8 977.6L974.5 970.1L975.1 965.1L975.7 952.9L976.4 960.1L977.0 932.9L977.7 969.4L978.3 972.7L978.9 938.4L979.6 959.2L980.2 962.1L980.9 959.0L981.5 934.1L982.1 948.7L982.8 974.4L983.4 952.7L984.0 943.1L984.6 969.9L985.3 947.0L985.9 937.2L986.5 928.9L987.2 942.1L987.8 969.8L988.4 931.9L989.0 955.6L989.7 952.2L990.3 935.9L990.9 939.6L992.0 906.3L993.4 934.2L994.0 942.4L994.6 939.2L995.2 917.3L995.8 955.6L996.5 925.2L997.1 927.2L997.7 911.1L998.3 956.5L998.9 932.2L999.5 945.0L1000.1 953.8L1000.7 916.9L1001.3 919.5L1002.0 938.1L1002.6 901.4L1003.2 916.4L1003.8 909.0L1004.4 944.6L1005.0 916.5L1005.6 941.7L1006.2 913.3L1006.8 937.5L1007.4 938.0L1008.0 937.0L1008.6 926.8L1009.2 880.9L1009.8 944.9L1010.4 905.3L1011.0 924.2L1011.6 918.4L1012.2 904.2L1012.8 900.2L1013.3 933.4L1013.9 927.6L1014.5 953.9L1015.1 925.4L1015.7 935.4L1016.3 910.0L1016.9 904.6L1017.5 924.3L1018.1 901.9L1018.7 918.7L1019.2 887.8L1019.8 912.7L1020.4 908.6L1021.0 901.3L1021.6 911.4L1022.2 895.1L1022.7 920.2L1023.3 877.9L1023.9 913.7L1024.5 877.0L1025.1 905.9L1025.6 877.0L1026.2 915.4L1026.8 868.3L1027.4 898.8L1027.9 881.3L1028.5 878.6L1029.1 853.5L1029.7 869.2L1030.2 837.5L1030.8 864.2L1031.4 869.5L1031.9 839.0L1032.5 860.1L1033.1 864.3L1033.6 890.9L1034.2 843.5L1034.8 856.4L1035.3 848.8L1035.9 865.4L1036.5 855.7L1037.0 860.4L1037.6 856.5L1038.2 843.3L1038.7 845.6L1039.3 837.3L1039.8 853.0L1040.4 834.6L1041.0 823.5L1041.5 795.7L1042.1 822.9L1042.6 819.6L1043.2 852.9L1043.7 818.7L1044.3 834.9L1044.9 822.1L1045.4 791.6L1046.0 819.0L1046.5 833.2L1047.1 861.7L1047.6 841.3L1048.2 822.2L1048.7 796.8L1049.3 808.9L1049.8 812.6L1050.4 815.9L1050.9 807.2L1051.5 789.1L1052.0 794.8L1052.5 795.0L1053.1 770.3L1053.6 782.3L1054.2 825.7L1054.7 782.5L1055.3 782.1L1055.8 814.2L1056.3 762.8L1056.9 774.3L1057.4 748.0L1058.0 815.2L1058.5 760.8L1059.0 790.1L1059.6 768.8L1060.1 751.1L1060.6 734.4L1061.2 768.8L1061.7 721.5L1062.3 744.5L1062.8 776.6L1063.3 755.6L1063.9 734.7L1064.4 767.7L1064.9 754.4L1065.4 681.4L1066.0 739.8L1066.5 713.5L1067.0 709.8L1067.6 703.0L1068.1 694.0L1068.6 701.4L1069.1 727.3L1069.7 719.0L1070.2 701.2L1070.7 691.0L1071.2 708.1L1071.8 689.9L1072.3 698.3L1072.8 651.1L1073.3 689.0L1073.9 710.6L1074.4 655.3L1074.9 694.3L1075.4 675.0L1075.9 672.4L1076.4 703.6L1077.0 637.6L1077.5 654.9L1078.0 614.7L1078.5 664.7L1079.0 635.6L1079.5 614.1L1080.1 604.3L1080.6 588.1L1081.1 637.7L1081.6 639.9L1082.1 620.5L1082.6 600.6L1083.1 608.6L1083.6 611.5L1084.2 611.7L1084.7 623.6L1085.2 541.7L1085.7 555.7L1086.2 563.1L1086.7 542.9L1087.2 570.2L1087.7 547.7L1088.2 523.7L1088.7 510.5L1089.2 535.5L1089.7 521.8L1090.2 486.4L1090.7 473.3L1091.2 463.7L1091.7 431.7L1092.2 409.3L1092.7 420.4L1093.2 398.3L1093.7 368.9L1094.2 344.7L1094.7 282.5L1095.2 255.6L1095.7 247.1L1097.1 64.5L1098.2 156.1L1098.7 249.4L1099.2 276.9L1099.7 329.8L1100.2 378.8L1100.7 375.1L1101.2 434.3L1101.7 397.4L1102.1 449.5L1102.6 461.3L1103.1 457.8L1103.6 496.7L1104.1 523.6L1104.6 544.3L1105.1 524.7L1105.6 517.9L1106.1 506.9L1106.5 515.3L1107.0 543.8L1107.5 534.1L1108.0 539.5L1108.5 544.6L1109.0 544.4L1109.4 566.1L1109.9 548.0L1110.4 601.8L1110.9 585.0L1111.4 603.7L1111.8 597.3L1112.3 602.0L1112.8 598.6L1113.3 644.3L1113.8 622.9L1114.2 622.9L1114.7 631.8L1115.2 607.7L1115.7 620.8L1116.2 650.7L1116.6 666.8L1117.1 659.8L1117.6 675.6L1118.1 644.2L1118.5 663.1L1119.0 646.5L1119.5 695.7L1119.9 682.8L1120.4 701.8L1120.9 694.2L1121.4 656.2L1121.8 636.2L1122.3 686.8L1122.8 668.5L1123.2 663.2L1123.7 663.3L1124.2 700.7L1124.6 661.1L1125.1 667.1L1125.6 708.1L1126.0 721.6L1126.5 682.5L1127.0 722.3L1127.4 646.8L1127.9 681.1L1128.4 700.7L1128.8 678.7L1129.3 686.1L1129.8 710.6L1130.2 653.3L1130.7 654.4L1131.1 685.5L1131.6 674.4L1132.1 676.8L1132.5 671.4L1133.0 681.1L1133.4 695.1L1133.9 654.1L1134.4 646.8L1134.8 658.2L1135.3 658.2L1135.7 641.1L1136.2 656.9L1136.6 643.1L1137.1 631.9L1137.5 633.4L1138.0 643.0L1138.5 597.7L1138.9 642.7L1139.4 631.7L1139.8 612.1L1140.3 606.5L1140.7 635.0L1141.2 597.5L1141.6 632.3L1142.1 600.1L1142.5 586.3L1143.0 589.2L1143.4 582.3L1143.9 613.9L1144.3 619.8L1144.8 573.7L1145.2 565.5L1145.7 574.2L1146.1 592.4L1146.6 568.0L1147.0 576.9L1147.4 554.1L1147.9 535.9L1148.3 566.7L1148.8 518.7L1149.2 525.1L1149.7 545.3L1150.1 561.4L1150.6 532.8L1151.0 540.1L1151.4 529.5L1151.9 533.4L1152.3 535.8L1152.8 518.3L1153.2 512.6L1153.6 455.9L1154.1 458.4L1154.5 485.4L1155.0 492.6L1155.4 433.0L1155.8 425.6L1156.3 465.0L1156.7 391.8L1157.1 429.0L1157.6 384.4L1158.0 319.3L1158.4 360.7L1158.9 311.8L1159.3 310.1L1159.7 296.4L1160.2 248.0L1160.6 234.0L1161.0 202.2L1162.0 96.0L1163.2 211.5L1163.6 259.9L1164.1 273.0L1164.5 316.0L1164.9 381.3L1165.4 399.9L1165.8 385.7L1166.2 403.6L1166.6 402.8L1167.1 424.6L1167.5 457.3L1167.9 439.9L1168.3 443.5L1168.8 460.1L1169.2 441.3L1169.6 465.8L1170.0 485.3L1170.5 513.1L1170.9 492.4L1171.3 510.0L1171.7 526.7L1172.2 510.3L1172.6 551.3L1173.0 567.1L1173.4 567.8L1173.8 556.9L1174.3 563.2L1174.7 592.0L1175.1 531.7L1175.5 561.2L1175.9 596.6L1176.4 609.4L1176.8 614.1L1177.2 590.3L1177.6 582.7L1178.0 624.0L1178.4 624.9L1178.9 585.4L1179.3 613.9L1179.7 604.6L1180.1 638.8L1180.5 606.7L1180.9 638.9L1181.4 600.9L1181.8 625.4L1182.2 652.1L1182.6 663.6L1183.0 682.1L1183.4 681.3L1183.8 674.6L1184.2 616.1L1184.7 656.1L1185.1 701.4L1185.5 666.8L1185.9 628.5L1186.3 702.2L1186.7 672.6L1187.1 665.2L1187.5 634.2L1187.9 670.1L1188.3 659.3L1188.8 695.6L1189.2 674.4L1189.6 724.7L1190.0 704.6L1190.4 669.1L1190.8 681.0L1191.2 683.0L1191.6 683.7L1192.0 684.5L1192.4 693.1L1192.8 739.0L1193.2 712.6L1193.6 683.2L1194.0 709.6L1194.4 690.4L1194.8 737.6L1195.2 695.3L1195.6 734.3L1196.0 659.0L1196.4 729.2L1196.8 733.3L1197.2 693.3L1197.6 706.3L1198.0 689.2L1198.4 722.1L1198.8 706.7L1199.2 736.2L1199.6 704.5L1200.0 713.8L1200.4 734.2L1200.8 740.6L1201.2 703.1L1201.6 675.4L1202.0 706.9L1202.4 743.3L1202.8 703.2L1203.2 742.5L1203.6 728.1L1204.0 736.3L1204.4 714.8L1204.8 714.7L1205.2 707.4L1205.6 726.3L1206.0 696.3L1206.4 735.1L1206.7 708.7L1207.1 697.0L1207.5 692.7L1207.9 686.0L1208.3 692.1L1208.7 678.5L1209.1 695.3L1209.5 683.1L1209.9 694.7L1210.3 707.0L1210.7 714.8L1211.0 682.8L1211.4 710.3L1211.8 702.4L1212.2 696.2L1212.6 664.9L1213.0 697.3L1213.4 703.1L1213.8 695.9L1214.1 716.3L1214.5 694.3L1214.9 691.9L1215.3 673.2L1215.7 646.2L1216.1 690.1L1216.5 678.0L1216.8 672.2L1217.2 705.2L1217.6 678.6L1218.0 635.9L1218.4 689.3L1218.8 644.3L1219.1 631.0L1219.5 664.4L1219.9 663.2L1220.3 659.1L1220.7 641.9L1221.0 628.7L1221.4 628.3L1221.8 676.9L1222.2 606.3L1222.6 632.0L1222.9 641.0L1223.3 605.3L1223.7 618.8L1224.1 619.3L1224.5 615.2L1224.8 608.8L1225.2 585.2L1225.6 581.3L1226.0 639.0L1226.3 603.1L1226.7 587.4L1227.1 595.9L1227.5 619.0L1227.8 565.3L1228.2 593.0L1228.6 584.8L1229.0 552.2L1229.3 553.9L1229.7 565.7L1230.1 542.5L1230.5 529.5L1230.8 553.1L1231.2 522.6L1231.6 492.2L1232.0 514.0L1232.3 486.7L1232.7 533.7L1233.1 467.5L1233.4 426.1L1233.8 470.2L1234.2 440.7L1234.5 450.5L1234.9 478.8L1235.3 441.3L1235.7 453.0L1236.0 392.6L1236.4 410.0L1236.8 392.4L1237.1 358.6L1237.5 323.6L1237.9 352.0L1238.2 298.8L1238.6 265.4L1239.0 270.8L1239.3 175.4L1240.3 113.0L1241.5 259.7L1241.9 233.8L1242.2 307.2L1242.6 286.7L1243.0 364.9L1243.3 358.5L1243.7 390.8L1244.1 393.4L1244.4 419.8L1244.8 412.9L1245.1 422.9L1245.5 449.7L1245.9 472.9L1246.2 436.4L1246.6 493.8L1247.0 471.4L1247.3 447.9L1247.7 517.3L1248.0 505.5L1248.4 492.1L1248.8 476.4L1249.1 503.2L1249.5 487.0L1249.8 539.5L1250.2 535.3L1250.5 544.6L1250.9 536.8L1251.3 566.2L1251.6 534.6L1252.0 567.0L1252.3 577.7L1252.7 572.7L1253.0 557.4L1253.4 547.2L1253.7 604.9L1254.1 545.1L1255.3 446.0L1256.2 540.9L1256.6 574.4L1256.9 582.2L1257.3 617.7L1257.6 561.6L1258.0 579.9L1258.3 601.0L1258.7 583.8L1259.0 623.5L1259.4 600.3L1259.7 584.7L1260.1 626.0L1260.4 621.0L1260.8 629.1L1261.1 627.1L1261.5 609.3L1261.8 603.2L1262.2 662.6L1262.5 642.2L1262.9 631.5L1263.2 650.5L1263.6 627.8L1263.9 660.8L1264.3 642.2L1264.6 627.9L1265.0 656.3L1265.3 690.4L1265.7 691.3L1266.0 646.5L1266.4 656.7L1266.7 622.3L1267.0 660.1L1267.4 638.1L1267.7 687.4L1268.1 649.3L1268.4 702.1L1268.8 687.6L1269.1 655.4L1269.5 650.6L1269.8 657.2L1270.1 668.5L1270.5 659.5L1270.8 677.0L1271.2 680.7L1271.5 703.6L1271.8 695.4L1272.2 696.9L1272.5 701.0L1272.9 691.7L1273.2 646.9L1273.6 677.5L1273.9 693.9L1274.2 689.1L1274.6 684.1L1274.9 704.5L1275.3 690.9L1275.6 649.5L1275.9 728.9L1276.3 671.3L1276.6 684.7L1276.9 705.0L1277.3 689.4L1277.6 715.4L1278.0 703.1L1278.3 667.4L1278.6 678.7L1279.0 706.3L1279.3 673.0L1279.6 688.4L1280.0 627.7L1280.3 657.5L1280.6 659.4L1281.0 693.1L1281.3 695.4L1281.6 634.1L1282.0 673.7L1282.3 633.3L1282.7 692.5L1283.0 654.7L1283.3 651.0L1283.7 686.8L1284.0 594.8L1284.3 653.0L1284.6 666.1L1285.0 649.8L1285.3 601.2L1285.6 644.7L1286.0 619.7L1286.3 642.4L1286.6 611.1L1287.0 607.5L1287.3 640.8L1287.6 587.1L1288.0 528.6L1288.3 582.9L1289.3 495.0L1290.3 552.5L1290.6 556.8L1290.9 583.3L1291.2 590.0L1291.6 583.9L1291.9 658.6L1292.2 646.0L1292.6 637.4L1292.9 636.4L1293.2 681.4L1293.5 668.5L1293.9 668.9L1294.2 676.4L1294.5 685.2L1294.8 666.8L1295.2 618.0L1295.5 669.9L1295.8 672.1L1296.1 655.3L1296.5 674.4L1296.8 658.5L1297.1 671.5L1297.4 598.5L1297.8 670.1L1298.1 647.3L1298.4 669.0L1298.7 604.8L1299.0 624.5L1299.4 653.9L1299.7 626.4L1300.0 652.0L1300.3 637.8L1300.7 605.1L1301.0 593.5L1301.3 627.4L1301.6 637.9L1301.9 581.0L1302.3 600.3L1302.6 636.9L1302.9 602.7L1303.2 591.5L1303.5 598.7L1303.9 528.2L1304.2 589.8L1304.5 570.9L1304.8 588.0L1305.1 554.1L1305.4 543.1L1305.8 571.3L1306.1 555.7L1306.4 501.2L1306.7 539.8L1307.0 511.0L1307.4 514.2L1307.7 549.2L1308.0 505.4L1308.3 520.6L1308.6 532.1L1308.9 546.6L1309.2 494.5L1309.6 462.6L1309.9 495.6L1310.2 492.3L1310.5 476.5L1310.8 491.1L1311.1 510.4L1311.4 493.2L1311.8 476.7L1312.1 419.1L1312.4 422.6L1312.7 462.8L1313.0 411.8L1313.3 406.5L1313.6 467.7L1314.0 393.8L1314.3 456.7L1314.6 395.7L1314.9 385.2L1315.2 340.5L1315.5 277.5L1315.8 254.6L1316.1 274.2L1317.3 123.0L1318.3 273.2L1318.6 273.9L1318.9 274.7L1319.2 309.3L1319.5 324.5L1319.8 303.9L1320.2 369.6L1320.5 391.9L1320.8 330.5L1321.1 385.1L1321.4 405.8L1321.7 434.9L1322.0 435.9L1322.3 443.5L1322.6 413.2L1322.9 480.6L1323.2 471.6L1323.5 489.8L1323.8 455.0L1324.1 522.3L1324.4 491.8L1324.8 508.7L1325.1 538.0L1325.4 493.0L1325.7 486.1L1326.0 504.6L1326.3 493.1L1326.6 498.3L1326.9 508.4L1327.2 524.6L1327.5 487.9L1327.8 481.3L1328.1 412.5L1329.3 302.0L1330.2 397.4L1330.5 446.3L1330.8 503.5L1331.1 525.2L1331.4 518.0L1331.7 527.1L1332.0 521.6L1332.3 514.9L1332.6 518.9L1332.9 549.0L1333.2 510.1L1333.5 521.5L1333.8 523.4L1334.1 552.3L1334.4 535.7L1334.7 479.5L1335.0 484.6L1336.0 422.0L1337.1 474.8L1337.4 504.9L1337.7 564.7L1338.0 615.7L1338.3 545.9L1338.6 574.8L1338.9 545.8L1339.2 618.2L1339.5 585.8L1339.8 571.9L1340.1 582.4L1340.4 608.2L1340.7 555.4L1340.9 594.5L1341.2 652.4L1341.5 632.1L1341.8 639.8L1342.1 619.5L1342.4 652.3L1342.7 613.4L1343.0 638.5L1343.3 683.7L1343.6 628.7L1343.9 674.9L1344.2 709.2L1344.5 647.7L1344.8 678.8L1345.1 645.6L1345.3 637.7L1345.6 668.7L1345.9 679.6L1346.2 661.3L1346.5 664.2L1346.8 666.8L1347.1 646.8L1347.4 660.6L1347.7 682.1L1348.0 670.9L1348.3 667.2L1348.5 699.6L1348.8 699.9L1349.1 640.5L1349.4 705.8L1349.7 701.1L1350.0 681.2L1350.3 685.9L1350.6 682.9L1350.9 681.2L1351.2 622.4L1351.4 623.3L1351.7 637.9L1352.0 641.9L1352.3 622.8L1352.6 584.9L1352.9 583.0L1353.2 576.1L1353.5 568.2L1353.7 520.7L1354.0 498.0L1354.3 509.8L1355.3 370.0L1356.3 488.0L1356.6 478.6L1356.9 541.4L1357.2 601.3L1357.5 524.2L1357.7 589.3L1358.0 627.2L1358.3 569.7L1358.6 625.1L1358.9 646.1L1359.2 652.1L1359.4 655.2L1359.7 666.2L1360.0 700.1L1360.3 685.8L1360.6 653.3L1360.9 689.9L1361.1 666.6L1361.4 645.9L1361.7 678.0L1362.0 625.9L1362.3 648.6L1362.5 718.0L1362.8 674.1L1363.1 672.5L1363.4 701.2L1363.7 696.6L1364.0 678.1L1364.2 685.7L1364.5 686.7L1364.8 634.0L1365.1 635.4L1365.4 678.9L1365.6 634.6L1365.9 686.9L1366.2 661.2L1366.5 647.5L1366.7 662.5L1367.0 643.8L1367.3 684.5L1367.6 681.7L1367.9 657.1L1368.1 666.2L1368.4 622.3L1368.7 669.9L1369.0 639.7L1369.3 629.0L1369.5 660.8L1369.8 613.3L1370.1 643.1L1370.4 634.3L1370.6 674.4L1370.9 615.7L1371.2 619.0L1371.5 625.0L1371.7 580.4L1372.0 594.7L1372.3 605.1L1372.6 565.2L1372.8 594.4L1373.1 591.8L1373.4 582.4L1373.7 586.5L1373.9 590.5L1374.2 545.5L1374.5 573.3L1374.8 537.5L1375.0 521.0L1375.3 538.0L1375.6 516.2L1375.9 587.1L1376.1 489.7L1376.4 553.5L1376.7 556.2L1377.0 503.6L1377.2 504.7L1377.5 518.3L1377.8 492.7L1378.0 536.2L1378.3 522.3L1378.6 540.1L1378.9 512.1L1379.1 532.8L1379.4 494.2L1379.7 510.7L1380.0 493.9L1380.2 478.6L1380.5 490.1L1380.8 496.9L1381.0 443.7L1381.3 489.2L1381.6 487.2L1381.8 428.3L1382.1 464.0L1382.4 495.6L1382.7 521.6L1382.9 475.0L1383.2 506.5L1383.5 510.0L1383.7 439.5L1384.0 398.3L1384.3 340.7L1384.5 348.0L1384.8 371.3L1385.1 331.7L1386.0 246.0L1387.0 326.9L1387.2 302.3L1387.5 313.8L1387.8 391.8L1388.0 399.2L1388.3 421.3L1388.6 462.9L1388.8 532.8L1389.1 523.1L1389.4 481.1L1390.5 420.0L1391.5 493.1L1391.7 515.8L1392.0 557.9L1392.3 500.5L1392.5 481.4L1393.5 410.0L1394.6 471.7L1394.9 509.4L1395.2 531.3L1395.4 482.5L1395.7 471.4L1395.9 438.7L1396.2 419.0L1396.5 432.4L1396.7 394.8L1397.0 340.7L1397.3 351.2L1397.5 344.9L1397.8 316.8L1398.0 250.3L1399.0 178.0L1400.1 260.8L1400.4 259.1L1400.6 296.9L1400.9 342.9L1401.2 420.0L1401.4 451.3L1401.7 478.1L1401.9 511.1L1402.2 493.7L1402.5 514.6L1402.7 460.2L1403.0 442.4L1403.2 459.0L1403.5 505.7L1403.7 452.2L1404.0 487.9L1404.3 484.1L1404.5 483.4L1404.8 474.4L1405.0 505.8L1405.3 543.7L1405.5 511.1L1405.8 548.1L1406.1 571.7L1406.3 567.1L1406.6 546.3L1406.8 575.9L1407.1 596.2L1407.3 587.1L1407.6 619.1L1407.9 627.1L1408.1 637.1L1408.4 634.3L1408.6 641.6L1408.9 590.2L1409.1 582.5L1409.4 639.5L1409.6 607.5L1409.9 613.1L1410.1 590.4L1410.4 596.3L1410.7 546.8L1410.9 542.9L1411.2 603.8L1411.4 578.8L1411.7 565.7L1411.9 553.8L1412.2 518.6L1412.4 528.5L1412.7 506.5L1412.9 525.0L1413.2 502.8L1413.4 522.4L1413.7 452.4L1413.9 483.5L1414.2 435.2L1414.5 447.2L1414.7 409.9L1415.0 419.9L1415.2 439.7L1415.5 395.2L1415.7 370.8L1416.0 358.1L1416.2 261.5L1416.5 289.3L1416.7 270.5L1417.0 268.8L1418.0 179.0L1419.0 287.9L1419.2 267.9L1419.5 296.9L1419.7 366.1L1420.0 333.8L1420.2 372.7L1420.5 394.7L1420.7 411.1L1421.0 433.8L1421.2 460.9L1421.5 460.0L1421.7 424.8L1422.0 496.7L1422.2 490.4L1422.4 505.3L1422.7 534.2L1422.9 488.8L1423.2 538.0L1423.4 530.3L1423.7 577.9L1423.9 568.4L1424.2 591.6L1424.4 595.3L1424.7 589.7L1424.9 585.3L1425.2 562.6L1425.4 575.6L1425.7 606.7L1425.9 627.3L1426.1 628.1L1426.4 641.7L1426.6 663.1L1426.9 670.1L1427.1 634.5L1427.4 645.4L1427.6 678.7L1427.9 651.9L1428.1 673.4L1428.4 655.0L1428.6 660.3L1428.8 667.8L1429.1 662.7L1429.3 642.0L1429.6 693.0L1429.8 727.7L1430.1 668.1L1430.3 649.4L1430.6 635.1L1430.8 676.5L1431.0 634.3L1431.3 626.9L1431.5 655.2L1431.8 620.9L1432.0 640.5L1432.3 596.9L1432.5 640.0L1432.7 646.8L1433.0 666.8L1433.2 600.7L1433.5 630.0L1433.7 616.9L1433.9 607.8L1434.2 643.8L1434.4 581.3L1434.7 627.9L1434.9 609.0L1435.2 601.1L1435.4 568.8L1435.6 569.3L1435.9 598.9L1436.1 597.3L1436.4 561.6L1436.6 545.3L1436.8 553.0L1437.1 558.0L1437.3 515.1L1437.6 515.4L1437.8 494.2L1438.0 507.1L1438.3 552.4L1438.5 508.5L1438.8 492.8L1439.0 466.0L1439.2 467.5L1439.5 503.0L1439.7 459.7L1440.0 478.9L1440.2 485.1L1440.4 512.4L1440.7 421.5L1440.9 428.8L1441.1 439.0L1441.4 453.0L1441.6 383.2L1441.9 407.0L1442.1 421.9L1442.3 395.5L1442.6 405.2L1442.8 401.4L1443.0 325.0L1443.3 328.5L1443.5 319.7L1443.8 427.1L1444.0 315.5L1444.2 390.4L1444.5 371.1L1444.7 399.4L1444.9 442.9L1445.2 424.4L1445.4 510.7L1445.6 508.3L1445.9 529.6L1446.1 495.5L1446.4 525.1L1446.6 587.6L1446.8 572.1L1447.1 619.7L1447.3 604.4L1447.5 576.0L1447.8 617.2L1448.0 620.3"/>
</g>
<rect x="396.5" y="75.5" width="687.9" height="470.9" fill="#ffffff" stroke="#222222" stroke-width="2.5"/>
<line x1="405.9" y1="157.9" x2="514" y2="157.9" stroke="#0000ff" stroke-width="6.2"/>
<text class="lg" x="547" y="169.6" font-size="96" font-style="italic">L</text><text class="lg" x="598.8" y="217.8" font-size="76.8" font-style="italic">w</text><text class="lg" x="0" y="0" font-size="96" text-anchor="middle" transform="translate(704.0 137.0) scale(1.14 0.86) translate(0 31.4)">=</text><text class="lg" x="754.0" y="169.6" font-size="96">100 mm</text>
<line x1="405.9" y1="312.0" x2="514" y2="312.0" stroke="#808080" stroke-width="6.2"/>
<text class="lg" x="547" y="323.3" font-size="96" font-style="italic">L</text><text class="lg" x="598.8" y="371.5" font-size="76.8" font-style="italic">w</text><text class="lg" x="0" y="0" font-size="96" text-anchor="middle" transform="translate(704.0 290.7) scale(1.14 0.86) translate(0 31.4)">=</text><text class="lg" x="754.0" y="323.3" font-size="96">150 mm</text>
<line x1="405.9" y1="465.5" x2="514" y2="465.5" stroke="#000000" stroke-width="6.2"/>
<text class="lg" x="547" y="476.8" font-size="96" font-style="italic">L</text><text class="lg" x="598.8" y="525.0" font-size="76.8" font-style="italic">w</text><text class="lg" x="0" y="0" font-size="96" text-anchor="middle" transform="translate(680.0 444.2) scale(1.14 0.86) translate(0 31.4)">=</text><text class="lg" x="730.3" y="476.8" font-size="96">200 mm</text>
<text class="tk" x="0" y="0" font-size="108" text-anchor="end" transform="translate(339.8 91.3) scale(1.012 1.025)">0</text>
<text class="tk" x="0" y="0" font-size="108" text-anchor="end" transform="translate(339.8 439.3) scale(1.012 1.025)">20</text>
<text class="tk" x="0" y="0" font-size="108" text-anchor="middle" transform="translate(191.1 418.4) scale(1.32 1.2) translate(0 29.4)">−</text>
<text class="tk" x="0" y="0" font-size="108" text-anchor="end" transform="translate(339.8 787.3) scale(1.012 1.025)">40</text>
<text class="tk" x="0" y="0" font-size="108" text-anchor="middle" transform="translate(191.1 766.4) scale(1.32 1.2) translate(0 29.4)">−</text>
<text class="tk" x="0" y="0" font-size="108" text-anchor="end" transform="translate(339.8 1135.3) scale(1.012 1.025)">60</text>
<text class="tk" x="0" y="0" font-size="108" text-anchor="middle" transform="translate(191.1 1114.4) scale(1.32 1.2) translate(0 29.4)">−</text>
<text class="tk" x="0" y="0" font-size="108" transform="translate(292.3 1244.6) scale(1 1.025)">10</text><text class="tk" x="0" y="0" font-size="76" transform="translate(399.3 1206) scale(1.05 1)">3</text>
<text class="tk" x="0" y="0" font-size="108" transform="translate(1372.0 1244.6) scale(1 1.025)">10</text><text class="tk" x="0" y="0" font-size="76" transform="translate(1479.5 1206) scale(1.05 1)">4</text>
<text class="tk" x="906.1" y="1393.5" font-size="117.9" text-anchor="middle">Frequency [Hz]</text>
<text class="tk" x="0" y="0" font-size="117.2" text-anchor="middle" transform="translate(116 587) rotate(-90)">dB</text>
</svg>
</body></html>
